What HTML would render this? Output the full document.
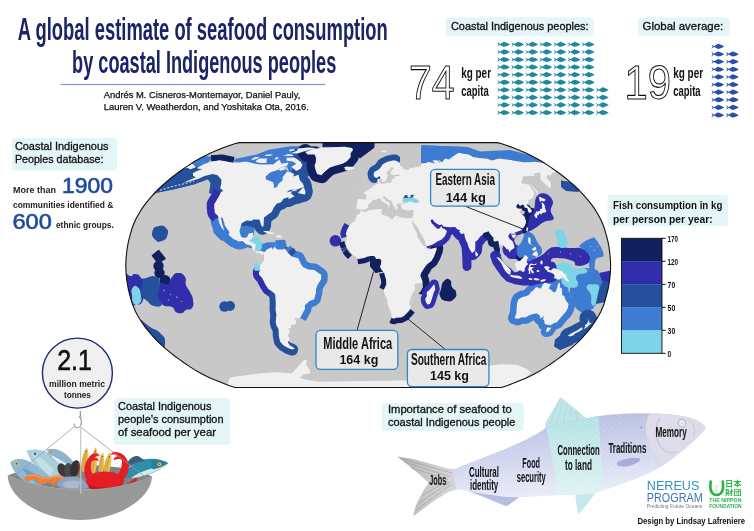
<!DOCTYPE html>
<html lang="en"><head><meta charset="utf-8"><title>A global estimate of seafood consumption by coastal Indigenous peoples</title>
<style>
html,body{margin:0;padding:0;background:#fff;}
body{width:754px;height:531px;overflow:hidden;}
svg{display:block;font-family:"Liberation Sans", sans-serif;}
.cjk{font-family:"Liberation Sans","Noto Sans CJK JP",sans-serif;}
</style></head><body>
<svg width="754" height="531" viewBox="0 0 754 531">
<text x="17.8" y="39.8" font-size="31.6" font-weight="bold" fill="#1a2466" text-anchor="start" textLength="370.0" lengthAdjust="spacingAndGlyphs">A global estimate of seafood consumption</text>
<text x="72.1" y="73.0" font-size="31.6" font-weight="bold" fill="#1a2466" text-anchor="start" textLength="264.2" lengthAdjust="spacingAndGlyphs">by coastal Indigenous peoples</text>
<rect x="60.5" y="83.9" width="264.7" height="1.2" fill="#7f93cc"/>
<text x="103.8" y="98.0" font-size="9" font-weight="normal" fill="#111" text-anchor="start" textLength="196.5" lengthAdjust="spacingAndGlyphs" stroke="#111" stroke-width="0.25">Andrés M. Cisneros-Montemayor, Daniel Pauly,</text>
<text x="103.8" y="109.9" font-size="9" font-weight="normal" fill="#111" text-anchor="start" textLength="205.0" lengthAdjust="spacingAndGlyphs" stroke="#111" stroke-width="0.25">Lauren V. Weatherdon, and Yoshitaka Ota, 2016.</text>
<defs><path id="fi" d="M0 -2.3 C0.9 -1.2 1.3 -0.5 1.5 0 C1.3 0.5 0.9 1.2 0 2.3 C1.2 1.7 2.2 0.8 3 0.35 C3.8 0.9 5 1.6 6 2 L6.6 2.7 L7.6 2.2 C9 2.2 11.2 1.3 13 0.1 C11.4 -1.2 9.4 -2.1 8 -2.2 L7 -2.9 L5.8 -2.0 C4.8 -1.6 3.8 -0.9 3 -0.35 C2.2 -0.8 1.2 -1.7 0 -2.3Z"/></defs>
<rect x="446.0" y="17.6" width="147.5" height="18.6" rx="3" fill="#e3f5f7"/>
<text x="451.0" y="30.4" font-size="11.3" font-weight="normal" fill="#111" text-anchor="start" textLength="137.5" lengthAdjust="spacingAndGlyphs" stroke="#111" stroke-width="0.32">Coastal Indigenous peoples:</text>
<rect x="638.2" y="17.6" width="91.3" height="18.2" rx="3" fill="#e3f5f7"/>
<text x="642.6" y="30.0" font-size="11.3" font-weight="normal" fill="#111" text-anchor="start" textLength="80.6" lengthAdjust="spacingAndGlyphs" stroke="#111" stroke-width="0.32">Global average:</text>
<text x="409.0" y="99.2" font-size="49" font-weight="normal" fill="#fff" text-anchor="start" textLength="45.5" lengthAdjust="spacingAndGlyphs" stroke="#111" stroke-width="1.05">74</text>
<text x="624.5" y="98.9" font-size="49" font-weight="normal" fill="#fff" text-anchor="start" textLength="46.5" lengthAdjust="spacingAndGlyphs" stroke="#111" stroke-width="1.05">19</text>
<text x="461.2" y="77.9" font-size="14" font-weight="bold" fill="#111" text-anchor="start" textLength="29.8" lengthAdjust="spacingAndGlyphs">kg per</text>
<text x="461.2" y="95.5" font-size="14" font-weight="bold" fill="#111" text-anchor="start" textLength="27.5" lengthAdjust="spacingAndGlyphs">capita</text>
<text x="673.2" y="77.9" font-size="14" font-weight="bold" fill="#111" text-anchor="start" textLength="29.9" lengthAdjust="spacingAndGlyphs">kg per</text>
<text x="673.2" y="95.8" font-size="14" font-weight="bold" fill="#111" text-anchor="start" textLength="27.4" lengthAdjust="spacingAndGlyphs">capita</text>
<g fill="#21889e"><use href="#fi" x="497.0" y="44.4"/><use href="#fi" x="497.0" y="52.0"/><use href="#fi" x="497.0" y="59.6"/><use href="#fi" x="497.0" y="67.1"/><use href="#fi" x="497.0" y="74.7"/><use href="#fi" x="497.0" y="82.3"/><use href="#fi" x="497.0" y="89.9"/><use href="#fi" x="497.0" y="97.5"/><use href="#fi" x="497.0" y="105.0"/><use href="#fi" x="497.0" y="112.6"/><use href="#fi" x="511.1" y="44.4"/><use href="#fi" x="511.1" y="52.0"/><use href="#fi" x="511.1" y="59.6"/><use href="#fi" x="511.1" y="67.1"/><use href="#fi" x="511.1" y="74.7"/><use href="#fi" x="511.1" y="82.3"/><use href="#fi" x="511.1" y="89.9"/><use href="#fi" x="511.1" y="97.5"/><use href="#fi" x="511.1" y="105.0"/><use href="#fi" x="511.1" y="112.6"/><use href="#fi" x="525.2" y="44.4"/><use href="#fi" x="525.2" y="52.0"/><use href="#fi" x="525.2" y="59.6"/><use href="#fi" x="525.2" y="67.1"/><use href="#fi" x="525.2" y="74.7"/><use href="#fi" x="525.2" y="82.3"/><use href="#fi" x="525.2" y="89.9"/><use href="#fi" x="525.2" y="97.5"/><use href="#fi" x="525.2" y="105.0"/><use href="#fi" x="525.2" y="112.6"/><use href="#fi" x="539.3" y="44.4"/><use href="#fi" x="539.3" y="52.0"/><use href="#fi" x="539.3" y="59.6"/><use href="#fi" x="539.3" y="67.1"/><use href="#fi" x="539.3" y="74.7"/><use href="#fi" x="539.3" y="82.3"/><use href="#fi" x="539.3" y="89.9"/><use href="#fi" x="539.3" y="97.5"/><use href="#fi" x="539.3" y="105.0"/><use href="#fi" x="539.3" y="112.6"/><use href="#fi" x="553.4" y="44.4"/><use href="#fi" x="553.4" y="52.0"/><use href="#fi" x="553.4" y="59.6"/><use href="#fi" x="553.4" y="67.1"/><use href="#fi" x="553.4" y="74.7"/><use href="#fi" x="553.4" y="82.3"/><use href="#fi" x="553.4" y="89.9"/><use href="#fi" x="553.4" y="97.5"/><use href="#fi" x="553.4" y="105.0"/><use href="#fi" x="553.4" y="112.6"/><use href="#fi" x="567.5" y="44.4"/><use href="#fi" x="567.5" y="52.0"/><use href="#fi" x="567.5" y="59.6"/><use href="#fi" x="567.5" y="67.1"/><use href="#fi" x="567.5" y="74.7"/><use href="#fi" x="567.5" y="82.3"/><use href="#fi" x="567.5" y="89.9"/><use href="#fi" x="567.5" y="97.5"/><use href="#fi" x="567.5" y="105.0"/><use href="#fi" x="567.5" y="112.6"/><use href="#fi" x="581.6" y="44.4"/><use href="#fi" x="581.6" y="52.0"/><use href="#fi" x="581.6" y="59.6"/><use href="#fi" x="581.6" y="67.1"/><use href="#fi" x="581.6" y="74.7"/><use href="#fi" x="581.6" y="82.3"/><use href="#fi" x="581.6" y="89.9"/><use href="#fi" x="581.6" y="97.5"/><use href="#fi" x="581.6" y="105.0"/><use href="#fi" x="581.6" y="112.6"/><use href="#fi" x="595.7" y="89.9"/><use href="#fi" x="595.7" y="97.5"/><use href="#fi" x="595.7" y="105.0"/><use href="#fi" x="595.7" y="112.6"/></g><g fill="#2a4fa6"><use href="#fi" x="711.2" y="46.5"/><use href="#fi" x="711.2" y="54.1"/><use href="#fi" x="711.2" y="61.7"/><use href="#fi" x="711.2" y="69.4"/><use href="#fi" x="711.2" y="77.0"/><use href="#fi" x="711.2" y="84.6"/><use href="#fi" x="711.2" y="92.2"/><use href="#fi" x="711.2" y="99.8"/><use href="#fi" x="711.2" y="107.5"/><use href="#fi" x="711.2" y="115.1"/><use href="#fi" x="725.8" y="54.1"/><use href="#fi" x="725.8" y="61.7"/><use href="#fi" x="725.8" y="69.4"/><use href="#fi" x="725.8" y="77.0"/><use href="#fi" x="725.8" y="84.6"/><use href="#fi" x="725.8" y="92.2"/><use href="#fi" x="725.8" y="99.8"/><use href="#fi" x="725.8" y="107.5"/><use href="#fi" x="725.8" y="115.1"/></g>
<rect x="12.0" y="137.9" width="105.2" height="32.5" rx="3" fill="#e3f5f7"/>
<text x="14.9" y="149.7" font-size="11.2" font-weight="normal" fill="#111" text-anchor="start" textLength="93.6" lengthAdjust="spacingAndGlyphs" stroke="#111" stroke-width="0.31">Coastal Indigenous</text>
<text x="14.9" y="162.5" font-size="11.2" font-weight="normal" fill="#111" text-anchor="start" textLength="88.6" lengthAdjust="spacingAndGlyphs" stroke="#111" stroke-width="0.31">Peoples database:</text>
<text x="13.0" y="193.1" font-size="8.8" font-weight="bold" fill="#222" text-anchor="start" textLength="42.9" lengthAdjust="spacingAndGlyphs">More than</text>
<text x="62.1" y="193.4" font-size="21.4" font-weight="normal" fill="#1e4a9c" text-anchor="start" textLength="50.9" lengthAdjust="spacingAndGlyphs" stroke="#1e4a9c" stroke-width="0.60">1900</text>
<text x="13.0" y="208.3" font-size="8.8" font-weight="bold" fill="#222" text-anchor="start" textLength="100.3" lengthAdjust="spacingAndGlyphs">communities identified &amp;</text>
<text x="12.4" y="229.0" font-size="21.4" font-weight="normal" fill="#1e4a9c" text-anchor="start" textLength="39.4" lengthAdjust="spacingAndGlyphs" stroke="#1e4a9c" stroke-width="0.60">600</text>
<text x="55.9" y="228.3" font-size="8.8" font-weight="bold" fill="#222" text-anchor="start" textLength="58.0" lengthAdjust="spacingAndGlyphs">ethnic groups.</text>
<defs><clipPath id="mc"><path d="M497.2 142.6 L501.7 143.8 L506.9 145.5 L512.6 147.6 L518.8 150.1 L525.2 152.8 L531.4 155.7 L537.1 158.7 L542.4 161.8 L547.5 165.1 L552.4 168.4 L557.1 171.8 L561.8 175.2 L566.3 178.8 L570.6 182.3 L574.7 186.0 L578.6 189.6 L582.1 193.3 L585.4 197.1 L588.6 200.8 L591.6 204.6 L594.3 208.4 L596.7 212.2 L598.9 216.0 L600.9 219.8 L602.6 223.7 L604.1 227.5 L605.2 231.3 L606.3 235.1 L607.3 238.9 L608.2 242.7 L608.9 246.5 L609.5 250.3 L609.9 254.2 L610.3 258.0 L610.5 261.8 L610.6 265.6 L610.5 269.4 L610.3 273.2 L609.9 277.0 L609.5 280.9 L608.9 284.7 L608.2 288.5 L607.3 292.3 L606.3 296.1 L605.2 299.9 L604.1 303.7 L602.6 307.5 L600.9 311.4 L598.9 315.2 L596.7 319.0 L594.3 322.8 L591.6 326.6 L588.6 330.4 L585.4 334.1 L582.1 337.9 L578.6 341.6 L574.7 345.2 L570.6 348.9 L566.3 352.4 L561.8 356.0 L557.1 359.4 L552.4 362.8 L547.5 366.1 L542.4 369.4 L537.1 372.5 L531.4 375.5 L525.2 378.4 L518.8 381.1 L512.6 383.6 L506.9 385.7 L501.3 387.5 L235.1 387.5 L229.5 385.7 L223.8 383.6 L217.6 381.1 L211.2 378.4 L205.0 375.5 L199.3 372.5 L194.0 369.4 L188.9 366.1 L184.0 362.8 L179.3 359.4 L174.6 356.0 L170.1 352.4 L165.8 348.9 L161.7 345.2 L157.8 341.6 L154.3 337.9 L151.0 334.1 L147.8 330.4 L144.8 326.6 L142.1 322.8 L139.7 319.0 L137.5 315.2 L135.5 311.4 L133.8 307.5 L132.3 303.7 L131.2 299.9 L130.1 296.1 L129.1 292.3 L128.2 288.5 L127.5 284.7 L126.9 280.9 L126.5 277.0 L126.1 273.2 L125.9 269.4 L125.8 265.6 L125.9 261.8 L126.1 258.0 L126.5 254.2 L126.9 250.3 L127.5 246.5 L128.2 242.7 L129.1 238.9 L130.1 235.1 L131.2 231.3 L132.3 227.5 L133.8 223.7 L135.5 219.8 L137.5 216.0 L139.7 212.2 L142.1 208.4 L144.8 204.6 L147.8 200.8 L151.0 197.1 L154.3 193.3 L157.8 189.6 L161.7 186.0 L165.8 182.3 L170.1 178.8 L174.6 175.2 L179.3 171.8 L184.0 168.4 L188.9 165.1 L194.0 161.8 L199.3 158.7 L205.0 155.7 L211.2 152.8 L217.6 150.1 L223.8 147.6 L229.5 145.5 L234.7 143.8 L239.2 142.6Z"/></clipPath></defs>
<path d="M497.2 142.6 L501.7 143.8 L506.9 145.5 L512.6 147.6 L518.8 150.1 L525.2 152.8 L531.4 155.7 L537.1 158.7 L542.4 161.8 L547.5 165.1 L552.4 168.4 L557.1 171.8 L561.8 175.2 L566.3 178.8 L570.6 182.3 L574.7 186.0 L578.6 189.6 L582.1 193.3 L585.4 197.1 L588.6 200.8 L591.6 204.6 L594.3 208.4 L596.7 212.2 L598.9 216.0 L600.9 219.8 L602.6 223.7 L604.1 227.5 L605.2 231.3 L606.3 235.1 L607.3 238.9 L608.2 242.7 L608.9 246.5 L609.5 250.3 L609.9 254.2 L610.3 258.0 L610.5 261.8 L610.6 265.6 L610.5 269.4 L610.3 273.2 L609.9 277.0 L609.5 280.9 L608.9 284.7 L608.2 288.5 L607.3 292.3 L606.3 296.1 L605.2 299.9 L604.1 303.7 L602.6 307.5 L600.9 311.4 L598.9 315.2 L596.7 319.0 L594.3 322.8 L591.6 326.6 L588.6 330.4 L585.4 334.1 L582.1 337.9 L578.6 341.6 L574.7 345.2 L570.6 348.9 L566.3 352.4 L561.8 356.0 L557.1 359.4 L552.4 362.8 L547.5 366.1 L542.4 369.4 L537.1 372.5 L531.4 375.5 L525.2 378.4 L518.8 381.1 L512.6 383.6 L506.9 385.7 L501.3 387.5 L235.1 387.5 L229.5 385.7 L223.8 383.6 L217.6 381.1 L211.2 378.4 L205.0 375.5 L199.3 372.5 L194.0 369.4 L188.9 366.1 L184.0 362.8 L179.3 359.4 L174.6 356.0 L170.1 352.4 L165.8 348.9 L161.7 345.2 L157.8 341.6 L154.3 337.9 L151.0 334.1 L147.8 330.4 L144.8 326.6 L142.1 322.8 L139.7 319.0 L137.5 315.2 L135.5 311.4 L133.8 307.5 L132.3 303.7 L131.2 299.9 L130.1 296.1 L129.1 292.3 L128.2 288.5 L127.5 284.7 L126.9 280.9 L126.5 277.0 L126.1 273.2 L125.9 269.4 L125.8 265.6 L125.9 261.8 L126.1 258.0 L126.5 254.2 L126.9 250.3 L127.5 246.5 L128.2 242.7 L129.1 238.9 L130.1 235.1 L131.2 231.3 L132.3 227.5 L133.8 223.7 L135.5 219.8 L137.5 216.0 L139.7 212.2 L142.1 208.4 L144.8 204.6 L147.8 200.8 L151.0 197.1 L154.3 193.3 L157.8 189.6 L161.7 186.0 L165.8 182.3 L170.1 178.8 L174.6 175.2 L179.3 171.8 L184.0 168.4 L188.9 165.1 L194.0 161.8 L199.3 158.7 L205.0 155.7 L211.2 152.8 L217.6 150.1 L223.8 147.6 L229.5 145.5 L234.7 143.8 L239.2 142.6Z" fill="#c8c8c8"/>
<g clip-path="url(#mc)">
<path d="M421.7 145.3 L467.0 147.0 L480.0 151.5 L510.0 150.0 L530.0 155.0 L541.0 160.5 L538.0 166.0 L500.0 164.0 L470.0 166.0 L440.0 168.0 L419.5 162.0Z" fill="#3e7cd2"/>
<path d="M420.3 163.5 L426.9 163.1 L427.2 161.8 L433.3 163.1 L435.2 163.8 L432.3 160.6 L432.5 158.1 L435.5 158.3 L437.5 160.6 L440.6 163.8 L438.1 159.3 L441.6 159.0 L443.1 157.4 L448.2 156.9 L446.7 155.3 L455.4 154.3 L458.6 152.5 L462.7 153.7 L469.1 154.5 L472.9 157.1 L479.1 158.1 L487.4 158.7 L491.5 160.6 L493.6 160.0 L499.2 158.5 L510.7 160.0 L513.9 160.8 L523.6 162.2 L533.1 162.1 L533.7 161.8 L539.1 162.2" fill="none" stroke="#3e7cd2" stroke-width="9" stroke-linejoin="round" stroke-linecap="round"/>
<path d="M190.0 165.0 L204.8 156.0 L211.0 157.5 L209.6 160.7 L202.4 166.3 L196.8 167.5 L191.0 166.0Z" fill="#3e7cd2" stroke="#3e7cd2" stroke-width="1" stroke-linejoin="round"/>
<path d="M211.0 158.3 L222.0 157.5 L234.0 160.0" fill="none" stroke="#12205f" stroke-width="6" stroke-linejoin="round" stroke-linecap="butt"/>
<path d="M150.0 197.0 L156.3 192.5 L175.0 188.7 L194.0 184.0 L208.0 178.8 L211.0 183.0 L209.5 193.0 L218.0 193.5 L222.0 185.0 L224.0 177.0 L215.0 171.0 L205.0 169.0 L197.0 167.0 L192.0 163.9 L170.0 176.0 L148.0 190.0Z" fill="#24509c" stroke="#24509c" stroke-width="1" stroke-linejoin="round"/>
<path d="M561.0 180.5 L572.0 182.0 L580.0 190.0 L578.0 192.0 L566.0 191.0 L561.0 187.0Z" fill="#24509c"/>
<path d="M220.9 192.0 L223.4 191.1 L220.2 188.2 L221.4 183.1" fill="none" stroke="#24509c" stroke-width="15" stroke-linejoin="round" stroke-linecap="round"/>
<path d="M242.4 240.9 L239.0 241.5 L233.4 238.9 L228.7 235.1 L229.4 232.0 L225.1 225.9 L222.7 218.0 L220.8 217.3 L221.9 222.9 L223.8 229.0 L224.1 230.5 L221.4 227.5 L218.9 222.1 L218.1 216.0" fill="none" stroke="#3e7cd2" stroke-width="16" stroke-linejoin="round" stroke-linecap="round"/>
<path d="M217.8 221.4 L219.0 229.8 L224.0 235.1" fill="none" stroke="#3e7cd2" stroke-width="12" stroke-linejoin="round" stroke-linecap="round"/>
<path d="M251.3 245.8 L246.1 244.2" fill="none" stroke="#3e7cd2" stroke-width="5" stroke-linejoin="round" stroke-linecap="round"/>
<path d="M218.4 218.0 L218.1 216.0 L214.9 213.0 L214.3 208.4 L214.2 204.2 L219.4 195.6 L220.9 192.0" fill="none" stroke="#302eaa" stroke-width="15" stroke-linejoin="round" stroke-linecap="butt"/>
<path d="M232.6 161.2 L235.9 158.7 L256.6 154.5 L267.8 150.1 L289.9 146.3 L313.8 145.9 L320.4 147.2 L313.0 150.1 L303.7 152.8 L298.3 156.9 L301.7 160.0 L304.8 164.4 L305.1 167.7 L298.6 172.5 L289.1 172.5 L287.2 167.1 L279.1 164.4 L258.7 165.1 L241.2 162.9Z" fill="#3e7cd2"/>
<path d="M265.1 176.6 L271.1 171.1 L280.2 168.4 L286.7 171.1 L284.9 178.1 L279.1 185.2 L275.9 188.2 L272.5 188.2 L273.7 182.3 L266.5 179.5Z" fill="#3e7cd2" stroke="#3e7cd2" stroke-width="2" stroke-linejoin="round"/>
<path d="M297.3 153.9 L301.5 157.5 L305.5 163.1 L308.5 167.1 L305.2 171.8 L301.8 174.5" fill="none" stroke="#24509c" stroke-width="11" stroke-linejoin="round" stroke-linecap="round"/>
<path d="M298.5 174.8 L299.9 180.2 L303.0 183.8 L304.0 186.7" fill="none" stroke="#24509c" stroke-width="16" stroke-linejoin="round" stroke-linecap="round"/>
<path d="M304.0 186.7 L306.4 191.1 L305.4 194.8 L298.2 197.1 L294.4 197.8 L288.1 200.4" fill="none" stroke="#24509c" stroke-width="13" stroke-linejoin="round" stroke-linecap="round"/>
<path d="M288.4 199.3 L288.5 197.1 L283.1 199.0 L281.5 201.9 L276.6 203.7 L273.6 207.7 L271.8 211.9 L268.7 213.9 L264.0 217.6 L263.6 225.2 L262.8 227.2 L261.3 225.5 L260.5 222.9 L259.6 219.8 L257.1 219.4 L252.6 219.5 L252.2 221.1 L246.5 220.6 L241.7 223.2" fill="none" stroke="#24509c" stroke-width="15" stroke-linejoin="round" stroke-linecap="round"/>
<path d="M239.5 227.5 L246.0 226.5 L253.5 228.5 L253.0 234.0 L249.0 237.0 L243.0 237.0 L239.5 233.0Z" fill="#3e7cd2" stroke="#3e7cd2" stroke-width="2" stroke-linejoin="round"/>
<path d="M305.3 152.0 L307.5 154.5 L314.6 154.5 L316.0 158.1 L315.9 161.8 L314.6 165.7 L315.5 169.7 L317.1 173.9 L321.4 175.2 L323.9 172.5 L329.5 167.7 L335.2 165.7 L342.6 163.8 L347.0 161.2 L350.7 156.9 L350.6 153.3 L353.1 150.1" fill="none" stroke="#12205f" stroke-width="16" stroke-linejoin="round" stroke-linecap="round"/>
<path d="M323.0 142.0 L374.0 142.0 L374.0 147.5 L368.0 152.0 L360.0 158.0 L352.0 152.0 L340.0 147.0 L323.0 146.8Z" fill="#12205f" stroke="#12205f" stroke-width="1" stroke-linejoin="round"/>
<path d="M261.0 245.0 L268.0 243.0 L275.0 243.0 L273.0 249.5 L266.0 251.0 L261.0 251.0Z" fill="#3e7cd2" stroke="#3e7cd2" stroke-width="1.5" stroke-linejoin="round"/>
<path d="M276.0 241.0 L284.5 240.5 L286.0 247.0 L280.0 250.0 L276.0 248.0Z" fill="#3e7cd2" stroke="#3e7cd2" stroke-width="1.5" stroke-linejoin="round"/>
<path d="M286.0 248.0 L294.0 249.5 L296.0 255.0 L290.0 256.0Z" fill="#24509c" stroke="#24509c" stroke-width="2" stroke-linejoin="round"/>
<path d="M285.4 249.3 L287.7 252.6 L291.6 256.4 L298.3 258.3 L300.9 264.1 L302.9 267.1 L308.3 269.4 L314.4 269.9 L318.4 272.9 L321.2 274.8 L321.2 279.3 L318.0 283.9 L316.2 288.5 L315.8 293.1 L314.2 299.2 L309.7 301.0 L304.8 305.3 L305.0 309.1 L301.5 315.2 L300.1 317.9" fill="none" stroke="#3e7cd2" stroke-width="13" stroke-linejoin="round" stroke-linecap="butt"/>
<path d="M287.7 252.6 L291.6 256.4" fill="none" stroke="#24509c" stroke-width="13" stroke-linejoin="round" stroke-linecap="butt"/>
<path d="M275.2 294.6 L273.2 292.3 L268.3 288.9 L265.2 284.2 L262.2 278.1 L259.1 274.8 L258.8 272.2 L260.5 270.2" fill="none" stroke="#302eaa" stroke-width="12" stroke-linejoin="round" stroke-linecap="butt"/>
<path d="M292.1 349.6 L288.0 348.1 L283.3 345.2 L280.0 341.6 L278.8 335.6 L278.6 329.6 L276.3 325.1 L275.7 322.0 L276.4 314.4 L275.5 309.8 L275.8 303.7 L275.2 294.6" fill="none" stroke="#24509c" stroke-width="12" stroke-linejoin="round" stroke-linecap="round"/>
<path d="M374.2 176.9 L373.5 173.9 L374.5 171.8 L377.0 170.4 L379.5 168.8 L381.3 166.4 L382.6 164.4 L384.8 163.1 L387.6 161.8 L392.7 160.5 L395.0 160.6" fill="none" stroke="#24509c" stroke-width="12" stroke-linejoin="round" stroke-linecap="round"/>
<path d="M403.5 194.0 L410.0 193.0 L414.0 195.5 L412.0 198.0 L404.0 198.0Z" fill="#24509c"/>
<path d="M403.0 198.0 L414.0 197.5 L418.7 200.0 L416.0 203.5 L405.0 203.5Z" fill="#7dd3e8"/>
<path d="M346.7 236.6 L345.8 233.6 L347.2 229.5 L349.3 225.6" fill="none" stroke="#302eaa" stroke-width="11" stroke-linejoin="round" stroke-linecap="butt"/>
<circle cx="335.4" cy="240.8" r="5.8" fill="#302eaa"/>
<path d="M380.0 266.7 L381.0 264.1 L381.3 260.3 L379.6 258.7 L376.3 259.0 L374.2 256.0" fill="none" stroke="#12205f" stroke-width="11" stroke-linejoin="round" stroke-linecap="round"/>
<path d="M371.0 258.0 L383.0 258.0 L384.0 270.0 L376.0 272.0 L371.0 266.0Z" fill="#12205f" stroke="#12205f" stroke-width="2" stroke-linejoin="round"/>
<path d="M383.9 289.7 L386.3 284.4 L386.0 279.3 L384.6 274.8 L384.1 272.6" fill="none" stroke="#12205f" stroke-width="10" stroke-linejoin="round" stroke-linecap="butt"/>
<path d="M410.5 309.1 L408.0 312.1 L404.0 315.9 L401.0 317.5 L396.2 317.8 L393.6 318.7 L391.6 317.8" fill="none" stroke="#12205f" stroke-width="11" stroke-linejoin="round" stroke-linecap="butt"/>
<path d="M424.1 268.3 L421.3 272.8 L420.3 275.5 L421.2 277.8 L422.5 281.6 L422.4 287.7" fill="none" stroke="#12205f" stroke-width="14" stroke-linejoin="round" stroke-linecap="round"/>
<path d="M436.7 247.6 L436.5 249.9 L434.1 256.4 L431.5 261.0 L427.4 264.1 L424.1 268.3" fill="none" stroke="#12205f" stroke-width="13" stroke-linejoin="round" stroke-linecap="round"/>
<path d="M434.2 283.9 L435.3 289.2 L433.9 292.3 L430.8 302.2 L429.8 303.9 L427.4 304.5 L425.6 301.4 L425.3 298.7 L426.9 296.1 L426.6 292.3 L429.9 289.5 L432.3 286.6 L434.2 283.9" fill="none" stroke="#302eaa" stroke-width="9" stroke-linejoin="round" stroke-linecap="round"/>
<path d="M444.0 281.0 C446.7 278.3 447.6 278.2 450.0 280.0 C452.4 281.8 450.2 283.4 452.0 287.0 C453.8 290.6 455.4 288.4 456.0 292.0 C456.6 295.6 457.0 296.3 454.0 299.0 C451.0 301.7 450.2 301.9 446.0 301.0 C441.8 300.1 441.5 299.6 440.0 296.0 C438.5 292.4 439.8 293.5 441.0 289.0 C442.2 284.5 441.3 283.7 444.0 281.0Z" fill="#12205f"/>
<path d="M484.9 232.5 L483.1 233.6 L482.6 235.1 L480.7 235.9 L477.7 240.1 L475.2 242.0 L475.4 245.5 L475.1 249.9 L474.2 251.4 L472.9 252.2 L472.2 253.2 L470.5 250.8 L468.5 247.0 L467.6 243.5 L466.0 240.4 L464.6 236.3 L464.2 233.3 L463.3 233.6 L461.3 233.9 L459.1 231.6 L460.3 230.5 L456.8 229.0 L455.3 227.0 L449.4 227.3 L443.4 226.6" fill="none" stroke="#302eaa" stroke-width="14" stroke-linejoin="round" stroke-linecap="butt"/>
<path d="M442.1 227.9 L445.3 229.6 L447.0 231.3 L445.7 234.5 L444.6 236.6 L443.2 238.1 L441.3 239.7 L437.8 241.2" fill="none" stroke="#302eaa" stroke-width="11" stroke-linejoin="round" stroke-linecap="round"/>
<path d="M437.8 241.2 L433.2 244.2 L428.4 246.1" fill="none" stroke="#302eaa" stroke-width="4" stroke-linejoin="round" stroke-linecap="round"/>
<path d="M430.5 219.8 L433.0 219.0 L438.7 226.0 L437.0 228.0 L432.0 224.0Z" fill="#302eaa" stroke="#302eaa" stroke-width="1" stroke-linejoin="round"/>
<path d="M466.7 244.2 L466.3 250.3 L466.9 259.5 L467.0 266.4" fill="none" stroke="#302eaa" stroke-width="9" stroke-linejoin="round" stroke-linecap="round"/>
<path d="M500.3 249.6 L499.2 245.8 L498.2 240.7 L495.2 241.5 L493.7 241.2 L493.2 237.4 L489.7 233.6 L488.7 231.3 L486.8 232.0" fill="none" stroke="#12205f" stroke-width="12" stroke-linejoin="round" stroke-linecap="round"/>
<path d="M495.2 255.7 L497.4 261.8 L501.5 267.9 L505.4 273.2 L509.2 277.0 L515.8 279.3 L523.7 280.5" fill="none" stroke="#302eaa" stroke-width="10" stroke-linejoin="round" stroke-linecap="round"/>
<path d="M524.8 217.1 L525.3 219.8 L526.0 220.1 L526.1 222.4 L524.7 225.9 L523.0 228.2 L520.8 230.5 L517.7 231.6 L514.0 233.1 L513.6 234.6 L511.3 232.5" fill="none" stroke="#302eaa" stroke-width="7" stroke-linejoin="round" stroke-linecap="round"/>
<path d="M503.0 236.0 C505.7 231.5 505.3 233.5 509.0 233.5 C512.7 233.5 512.0 232.8 514.0 236.0 C516.0 239.2 513.0 239.0 515.0 243.0 C517.0 247.0 518.0 243.7 520.0 248.0 C522.0 252.3 523.0 252.3 521.0 256.0 C519.0 259.7 519.0 259.0 514.0 259.0 C509.0 259.0 510.3 260.0 506.0 256.0 C501.7 252.0 502.0 253.7 501.0 247.0 C500.0 240.3 500.3 240.5 503.0 236.0Z" fill="#302eaa"/>
<path d="M511.3 232.8 L513.5 237.8 L515.8 235.9 L514.0 232.8" fill="none" stroke="#c8c8c8" stroke-width="1.5" stroke-linejoin="round" stroke-linecap="round"/>
<path d="M532.0 211.5 L530.3 212.7 L528.7 212.7 L527.2 208.1 L524.8 207.7 L523.9 205.2 L522.5 204.6 L520.0 206.1" fill="none" stroke="#12205f" stroke-width="7" stroke-linejoin="round" stroke-linecap="round"/>
<path d="M527.2 214.5 L527.2 219.8 L527.9 224.4 L526.4 229.0 L525.6 231.3" fill="none" stroke="#12205f" stroke-width="6" stroke-linejoin="round" stroke-linecap="round"/>
<path d="M516.5 255.0 C517.8 253.0 519.7 253.2 522.0 254.5 C524.3 255.8 524.8 257.0 523.5 259.0 C522.2 261.0 520.3 261.8 518.0 260.5 C515.7 259.2 515.2 257.0 516.5 255.0Z" fill="#12205f"/>
<path d="M536.5 196.8 C538.7 193.4 541.7 192.8 545.0 193.6 C548.3 194.4 551.7 197.6 552.8 201.0 C553.9 204.4 550.6 206.9 550.7 210.5 C550.8 214.1 554.8 216.7 553.5 219.0 C552.2 221.3 547.8 220.0 544.0 221.9 C540.2 223.8 537.8 226.7 534.6 228.4 C531.4 230.1 529.0 232.6 528.0 230.3 C527.0 228.0 528.3 221.0 529.5 217.0 C530.7 213.0 532.6 214.5 534.0 210.5 C535.4 206.5 534.3 200.2 536.5 196.8Z" fill="#302eaa"/>
<path d="M579.0 271.0 C583.0 267.9 584.4 267.7 590.0 268.5 C595.6 269.3 596.8 268.3 600.0 274.0 C603.2 279.7 602.8 282.3 602.0 290.0 C601.2 297.7 600.7 297.4 597.0 303.0 C593.3 308.6 593.1 309.1 588.0 311.0 C582.9 312.9 582.3 313.5 578.0 310.0 C573.7 306.5 574.1 303.9 572.0 298.0 C569.9 292.1 569.2 292.8 570.0 288.0 C570.8 283.2 572.6 284.5 575.0 280.0 C577.4 275.5 575.0 274.1 579.0 271.0Z" fill="#3e7cd2"/>
<path d="M518.5 299.2 L517.1 303.0 L516.7 307.5 L516.4 312.9 L514.6 317.9 L518.0 319.0 L521.1 317.5 L525.7 317.3 L529.8 314.9 L534.1 313.8 L537.0 313.6 L539.8 315.6 L540.4 318.7 L544.1 315.9 L542.9 319.3 L543.7 319.7 L544.4 321.3 L544.7 323.9 L547.4 324.8 L550.6 325.2 L553.8 323.2 L556.9 322.3 L559.6 319.0 L562.0 315.9 L565.7 312.1 L567.8 308.3 L568.6 304.0 L566.7 301.4 L565.3 299.2 L564.6 296.4 L562.0 294.6 L562.1 292.3 L561.9 288.5 L560.1 287.4 L559.9 283.9 L559.1 282.1 L557.6 285.4 L556.7 289.2 L555.2 292.3 L553.5 292.3 L551.3 290.0 L548.8 288.5 L549.9 285.9 L551.2 284.2 L549.5 283.9 L546.2 283.1 L544.3 282.8 L542.7 284.7 L540.9 288.2 L538.8 288.5 L537.7 287.0 L535.4 287.7 L533.2 290.5 L530.6 292.3 L530.3 293.5 L528.4 295.3 L524.9 296.6 L522.1 297.2 L518.5 299.2" fill="none" stroke="#3e7cd2" stroke-width="13" stroke-linejoin="round" stroke-linecap="round"/>
<path d="M547.1 327.6 L551.4 327.8 L548.7 331.4 L545.9 332.0 L546.4 329.9 L547.1 327.6" fill="none" stroke="#3e7cd2" stroke-width="10" stroke-linejoin="round" stroke-linecap="round"/>
<path d="M557.8 264.0 C561.5 262.2 564.5 262.1 568.8 263.2 C573.1 264.3 569.8 266.9 573.9 268.3 C578.0 269.7 580.6 267.2 584.0 268.3 C587.4 269.4 588.6 270.4 586.6 272.5 C584.6 274.6 578.7 272.8 576.4 276.0 C574.1 279.2 579.1 281.3 578.0 284.4 C576.9 287.5 576.0 287.6 572.2 287.8 C568.4 288.0 566.9 288.0 563.7 285.3 C560.5 282.6 562.6 281.7 560.3 277.6 C558.0 273.5 555.7 273.6 555.0 270.0 C554.3 266.4 554.1 265.8 557.8 264.0Z" fill="#7dd3e8"/>
<path d="M586.6 287.0 C587.1 284.3 589.1 284.2 592.5 284.4 C595.9 284.6 598.4 282.8 599.3 287.8 C600.2 292.8 598.0 298.7 596.0 303.0 C594.0 307.3 593.1 306.1 591.7 303.9 C590.3 301.7 592.2 299.1 590.8 294.6 C589.4 290.1 586.1 289.7 586.6 287.0Z" fill="#7dd3e8"/>
<path d="M492.0 259.0 C492.3 256.3 494.1 256.2 497.0 257.0 C499.9 257.8 499.5 259.1 503.0 262.0 C506.5 264.9 506.3 265.3 510.0 268.0 C513.7 270.7 513.5 273.1 517.0 272.0 C520.5 270.9 520.0 267.0 523.0 264.0 C526.0 261.0 524.7 262.2 528.2 260.6 C531.7 259.0 532.1 259.6 536.0 258.0 C539.9 256.4 539.2 257.0 542.7 254.6 C546.2 252.2 545.5 251.0 549.0 249.0 C552.5 247.0 550.3 247.3 556.0 247.0 C561.7 246.7 563.5 247.5 570.5 248.0 C577.5 248.5 577.2 246.6 582.4 248.8 C587.6 251.0 588.2 252.8 590.0 256.4 C591.8 260.0 592.4 259.9 589.0 262.4 C585.6 264.9 581.8 266.3 577.3 265.8 C572.8 265.3 577.6 262.8 572.2 260.7 C566.8 258.6 562.7 258.0 557.0 258.0 C551.3 258.0 551.3 258.8 551.0 260.7 C550.7 262.6 554.7 260.5 556.0 265.0 C557.3 269.5 556.7 273.2 556.0 277.7 C555.3 282.2 557.5 280.2 553.2 281.7 C548.9 283.2 546.7 282.5 540.0 283.5 C533.3 284.5 535.2 286.1 528.2 285.6 C521.2 285.1 520.4 284.3 513.7 281.7 C507.0 279.1 507.9 279.6 503.2 275.7 C498.5 271.8 499.0 271.5 496.0 267.0 C493.0 262.5 491.7 261.7 492.0 259.0Z" fill="#302eaa"/>
<path d="M525.0 233.0 C527.2 232.1 528.7 231.1 532.0 233.5 C535.3 235.9 534.7 237.2 537.4 242.0 C540.1 246.8 542.4 247.3 542.0 251.4 C541.6 255.5 539.7 254.7 536.0 257.3 C532.3 259.9 530.8 261.5 528.2 261.2 C525.6 260.9 528.7 257.0 526.2 256.0 C523.7 255.0 521.5 259.2 519.0 257.3 C516.5 255.4 516.5 252.6 517.0 248.7 C517.5 244.8 519.2 245.9 521.0 242.8 C522.8 239.7 522.5 239.5 523.6 236.9 C524.7 234.3 522.8 233.9 525.0 233.0Z" fill="#3e7cd2"/>
<path d="M555.3 232.7 C556.0 229.8 557.6 228.6 560.3 229.3 C563.0 230.0 563.6 231.0 565.4 235.3 C567.2 239.6 568.8 242.3 567.0 245.4 C565.2 248.5 561.1 248.4 558.6 247.0 C556.1 245.6 558.7 244.1 557.8 240.3 C556.9 236.5 554.6 235.6 555.3 232.7Z" fill="#7dd3e8"/>
<path d="M579.8 245.4 C581.4 243.3 587.6 239.8 590.8 238.6 C594.0 237.4 593.4 236.3 596.0 239.5 C598.6 242.7 603.6 250.8 603.6 254.7 C603.6 258.6 597.9 256.1 596.0 259.0 C594.1 261.9 595.4 267.0 594.2 269.2 C593.0 271.4 591.0 271.4 590.0 270.0 C589.0 268.6 589.2 265.2 589.2 262.4 C589.2 259.6 591.2 258.7 590.0 256.0 C588.8 253.3 585.0 251.1 583.0 249.0 C581.0 246.9 578.2 247.5 579.8 245.4Z" fill="#3e7cd2"/>
<path d="M600.2 273.4 L612.0 271.0 L612.0 282.0 L602.7 281.0Z" fill="#302eaa" stroke="#302eaa" stroke-width="1.5" stroke-linejoin="round"/>
<path d="M602.7 282.5 L612.0 283.0 L612.0 300.0 L596.8 303.0 L599.3 291.2Z" fill="#24509c" stroke="#24509c" stroke-width="1.5" stroke-linejoin="round"/>
<path d="M587.9 318.2 L590.6 323.5 L583.7 328.9 L575.2 333.4 L568.5 336.4" fill="none" stroke="#24509c" stroke-width="17" stroke-linejoin="round" stroke-linecap="round"/>
<path d="M556.0 340.0 L566.0 332.0 L576.0 330.0 L572.0 344.0 L560.0 349.0 L555.0 346.0Z" fill="#24509c" stroke="#24509c" stroke-width="2" stroke-linejoin="round"/>
<path d="M152.5 255.5 L158.5 250.5 L165.0 258.5 L158.0 263.0Z" fill="#12205f" stroke="#12205f" stroke-width="1.5" stroke-linejoin="round"/>
<circle cx="158.5" cy="266.0" r="5.2" fill="#12205f"/>
<circle cx="159.5" cy="273.0" r="5.2" fill="#12205f"/>
<circle cx="165.0" cy="280.5" r="5.5" fill="#12205f"/>
<path d="M160.0 283.0 C163.3 281.5 164.4 285.8 168.0 284.0 C171.6 282.2 169.0 280.3 172.0 277.0 C175.0 273.7 174.1 273.0 178.0 273.0 C181.9 273.0 182.6 273.4 185.0 277.0 C187.4 280.6 184.5 280.5 186.0 285.0 C187.5 289.5 187.9 287.5 190.0 292.0 C192.1 296.5 192.4 295.2 193.0 300.0 C193.6 304.8 194.1 305.0 192.0 308.0 C189.9 311.0 189.0 308.5 186.0 310.0 C183.0 311.5 185.0 312.4 182.0 313.0 C179.0 313.6 179.0 313.8 176.0 312.0 C173.0 310.2 175.9 309.1 172.0 307.0 C168.1 304.9 167.2 308.0 163.0 305.0 C158.8 302.0 159.8 301.8 158.0 297.0 C156.2 292.2 156.4 293.2 157.0 289.0 C157.6 284.8 156.7 284.5 160.0 283.0Z" fill="#302eaa"/>
<path d="M136.0 282.0 C138.4 277.2 140.0 279.5 146.0 278.0 C152.0 276.5 151.8 275.2 156.0 277.0 C160.2 278.8 159.4 278.3 160.0 284.0 C160.6 289.7 157.4 290.0 158.0 296.0 C158.6 302.0 163.2 301.0 162.0 304.0 C160.8 307.0 158.8 307.2 154.0 306.0 C149.2 304.8 150.8 303.6 146.0 300.0 C141.2 296.4 141.0 299.4 138.0 294.0 C135.0 288.6 133.6 286.8 136.0 282.0Z" fill="#24509c"/>
<path d="M122.0 272.0 C124.4 266.6 126.1 275.4 130.0 276.0 C133.9 276.6 131.7 273.4 135.0 274.0 C138.3 274.6 138.9 274.4 141.0 278.0 C143.1 281.6 142.0 281.2 142.0 286.0 C142.0 290.8 140.7 289.8 141.0 294.0 C141.3 298.2 144.2 296.7 143.0 300.0 C141.8 303.3 141.5 304.4 137.0 305.0 C132.5 305.6 132.5 305.3 128.0 302.0 C123.5 298.7 123.8 303.0 122.0 294.0 C120.2 285.0 119.6 277.4 122.0 272.0Z" fill="#302eaa"/>
<path d="M132.5 288.0 C134.3 285.4 135.4 285.1 138.0 287.5 C140.6 289.9 140.4 291.4 141.0 296.0 C141.6 300.6 142.1 300.6 140.0 303.0 C137.9 305.4 136.4 306.1 134.0 304.0 C131.6 301.9 132.4 300.8 132.0 296.0 C131.6 291.2 130.7 290.6 132.5 288.0Z" fill="#7dd3e8"/>
<circle cx="224.5" cy="306.5" r="5.2" fill="#24509c"/>
<circle cx="230.0" cy="306.0" r="5.0" fill="#24509c"/>
<path d="M152.5 231.0 C153.7 226.9 154.9 226.9 159.0 226.0 C163.1 225.1 163.4 225.3 166.0 228.0 C168.6 230.7 168.7 231.1 167.5 235.0 C166.3 238.9 165.8 239.7 162.0 241.0 C158.2 242.3 157.8 242.5 155.0 239.5 C152.2 236.5 151.3 235.1 152.5 231.0Z" fill="#24509c"/>
<path d="M138.0 320.0 C142.2 318.2 143.4 323.1 150.0 327.0 C156.6 330.9 155.5 328.5 160.0 333.0 C164.5 337.5 165.0 336.9 165.0 342.0 C165.0 347.1 165.1 349.1 160.0 350.0 C154.9 350.9 155.2 350.1 148.0 345.0 C140.8 339.9 139.0 340.5 136.0 333.0 C133.0 325.5 133.8 321.8 138.0 320.0Z" fill="#24509c"/>
<path d="M197.2 167.7 L204.7 163.8 L219.1 160.2 L231.1 162.4 L236.0 163.1 L244.3 161.8 L247.2 161.8 L255.0 163.8 L261.2 164.4 L273.1 164.4 L279.3 159.5 L281.5 163.8 L288.4 162.5 L287.1 165.7 L281.1 167.1 L278.3 169.7 L270.1 172.5 L265.6 176.6 L266.0 179.5 L272.9 181.9 L274.1 185.2 L273.4 187.4 L276.2 187.7 L279.2 183.1 L282.7 180.2 L282.7 177.1 L286.9 171.8 L291.2 172.5 L294.2 173.9 L293.3 176.6 L298.5 174.8 L299.9 180.2 L303.0 183.8 L304.0 186.7 L298.2 189.3 L290.6 189.3 L286.5 192.6 L291.7 191.1 L291.3 194.1 L294.8 196.3 L288.4 199.3 L288.5 197.1 L283.1 199.0 L281.5 201.9 L276.6 203.7 L273.6 207.7 L271.8 211.9 L268.7 213.9 L264.0 217.6 L263.6 225.2 L262.8 227.2 L261.3 225.5 L260.5 222.9 L259.6 219.8 L257.1 219.4 L252.6 219.5 L252.2 221.1 L246.5 220.6 L241.7 223.2 L239.5 231.3 L241.0 236.6 L242.8 237.8 L246.9 237.4 L248.7 233.6 L253.4 232.8 L252.2 237.4 L250.4 241.2 L256.3 241.5 L257.3 242.9 L256.1 248.8 L257.5 251.4 L261.6 251.1 L264.5 252.5 L264.1 254.2 L260.8 254.5 L260.2 252.9 L256.8 252.9 L253.3 250.3 L251.3 245.8 L246.1 244.2 L242.4 240.9 L239.0 241.5 L233.4 238.9 L228.7 235.1 L229.4 232.0 L225.1 225.9 L222.7 218.0 L220.8 217.3 L221.9 222.9 L223.8 229.0 L224.1 230.5 L221.4 227.5 L218.9 222.1 L218.1 216.0 L214.9 213.0 L214.3 208.4 L214.2 204.2 L219.4 195.6 L220.9 192.0 L223.4 191.1 L220.2 188.2 L221.4 183.1 L221.2 179.5 L219.1 177.1 L217.6 175.2 L212.7 173.9 L204.5 175.9 L198.7 178.8 L189.0 181.6 L183.3 182.8 L195.9 177.3 L193.2 175.9 L192.8 173.2 L196.9 171.1 L202.6 169.1 L197.8 168.8ZM305.3 152.0 L312.1 149.2 L319.6 148.1 L332.4 147.2 L344.6 146.7 L352.0 148.1 L353.1 150.1 L350.6 153.3 L350.7 156.9 L347.0 161.2 L342.6 163.8 L335.2 165.7 L329.5 167.7 L323.9 172.5 L321.4 175.2 L317.1 173.9 L315.5 169.7 L314.6 165.7 L315.9 161.8 L316.0 158.1 L314.6 154.5 L307.5 154.5ZM286.5 157.7 L294.2 157.4 L296.7 159.0 L300.5 161.8 L302.5 165.1 L300.3 169.1 L296.1 171.1 L293.5 168.4 L291.3 167.1 L296.3 163.8 L293.0 161.5 L286.7 160.8ZM256.6 160.3 L259.5 158.6 L267.0 158.6 L266.6 160.8 L266.7 162.7 L260.5 163.1 L255.7 162.1ZM251.4 159.1 L255.7 157.1 L259.5 157.0 L257.3 158.8 L252.3 160.0ZM283.0 155.7 L288.3 154.0 L294.6 154.9 L291.8 155.9ZM264.9 155.0 L270.3 154.3 L273.2 154.7 L270.3 155.7 L265.5 155.9ZM275.6 157.5 L278.8 157.1 L277.5 159.3 L274.5 159.6ZM289.0 149.8 L294.1 149.0 L294.8 150.6 L289.7 151.3ZM280.7 167.7 L284.0 167.3 L284.5 169.7 L280.7 170.8 L278.8 169.7ZM290.8 153.3 L297.1 150.8 L298.0 148.6 L308.1 147.5 L316.4 148.1 L309.9 149.7 L303.0 151.7 L297.6 153.6ZM264.5 252.5 L267.1 249.3 L271.9 247.3 L272.4 249.6 L274.6 247.0 L277.1 249.4 L282.4 249.6 L285.4 249.3 L287.7 252.6 L291.6 256.4 L298.3 258.3 L300.9 264.1 L302.9 267.1 L308.3 269.4 L314.4 269.9 L318.4 272.9 L321.2 274.8 L321.2 279.3 L318.0 283.9 L316.2 288.5 L315.8 293.1 L314.2 299.2 L309.7 301.0 L304.8 305.3 L305.0 309.1 L301.5 315.2 L300.1 317.9 L295.7 318.2 L293.9 317.5 L296.3 321.3 L295.7 324.3 L290.9 325.1 L291.0 328.1 L287.9 328.1 L289.8 330.4 L289.1 334.1 L287.2 335.6 L290.0 338.6 L287.8 342.3 L289.8 345.2 L295.0 348.6 L292.1 349.6 L288.0 348.1 L283.3 345.2 L280.0 341.6 L278.8 335.6 L278.6 329.6 L276.3 325.1 L275.7 322.0 L276.4 314.4 L275.5 309.8 L275.8 303.7 L275.2 294.6 L273.2 292.3 L268.3 288.9 L265.2 284.2 L262.2 278.1 L259.1 274.8 L258.8 272.2 L260.5 270.2 L259.4 269.0 L259.4 267.1 L260.5 264.4 L262.1 263.3 L264.2 259.5 L264.1 254.6ZM360.7 211.0 L365.7 211.9 L369.5 209.9 L374.5 209.5 L380.8 208.9 L382.0 209.2 L381.2 213.3 L382.3 214.8 L387.4 216.3 L392.7 219.4 L393.9 217.1 L396.4 215.4 L400.3 217.3 L405.6 218.3 L409.8 218.0 L412.2 217.9 L413.4 220.6 L412.4 223.2 L410.4 220.0 L412.5 224.4 L414.8 229.0 L417.1 233.6 L417.6 236.9 L420.6 242.0 L423.7 245.8 L426.1 246.5 L425.8 248.1 L428.5 249.6 L432.5 248.5 L436.7 247.6 L436.5 249.9 L434.1 256.4 L431.5 261.0 L427.4 264.1 L424.1 268.3 L421.3 272.8 L420.3 275.5 L421.2 277.8 L422.5 281.6 L422.4 287.7 L420.0 291.5 L416.6 294.3 L414.2 296.1 L414.9 301.4 L411.1 305.1 L410.5 309.1 L408.0 312.1 L404.0 315.9 L401.0 317.5 L396.2 317.8 L393.6 318.7 L391.6 317.8 L391.6 314.4 L389.6 309.2 L387.8 305.3 L387.3 299.9 L384.1 293.1 L383.9 289.7 L386.3 284.4 L386.0 279.3 L384.6 274.8 L384.1 272.6 L381.3 269.4 L380.0 266.7 L381.0 264.1 L381.3 260.3 L379.6 258.7 L376.3 259.0 L374.2 256.0 L370.2 256.1 L365.5 258.3 L362.1 257.7 L358.1 258.9 L355.8 256.8 L352.8 255.1 L350.5 252.5 L348.5 249.3 L345.9 246.7 L345.0 243.2 L346.2 241.2 L346.7 236.6 L345.8 233.6 L347.2 229.5 L349.3 225.6 L351.3 223.4 L355.3 220.6 L355.7 218.3 L357.3 214.8 L359.5 213.7ZM434.2 283.9 L435.3 289.2 L433.9 292.3 L430.8 302.2 L429.8 303.9 L427.4 304.5 L425.6 301.4 L425.3 298.7 L426.9 296.1 L426.6 292.3 L429.9 289.5 L432.3 286.6ZM356.9 209.2 L356.5 206.6 L357.4 202.3 L357.0 199.9 L358.5 199.0 L366.0 199.5 L366.8 195.6 L364.8 193.5 L362.6 192.0 L366.3 191.6 L366.6 190.1 L368.4 190.4 L370.1 188.3 L372.2 187.6 L373.7 185.2 L376.2 184.5 L378.2 183.8 L377.5 181.6 L377.3 179.5 L379.7 178.5 L379.6 180.9 L379.5 183.1 L380.7 183.8 L384.1 183.8 L389.0 182.6 L390.8 183.1 L391.7 181.6 L391.4 179.5 L392.9 178.5 L395.0 179.0 L393.7 176.4 L398.5 175.9 L400.5 175.2 L398.2 174.5 L395.0 175.0 L392.4 175.2 L390.9 173.9 L390.5 171.4 L393.8 168.4 L392.5 167.3 L390.5 167.5 L390.2 169.3 L386.7 172.5 L386.6 174.3 L388.5 175.2 L386.4 178.8 L386.5 180.5 L384.2 181.6 L382.5 181.8 L382.1 180.2 L380.4 176.9 L379.5 175.9 L377.0 177.9 L374.2 176.9 L373.5 173.9 L374.5 171.8 L377.0 170.4 L379.5 168.8 L381.3 166.4 L382.6 164.4 L384.8 163.1 L387.6 161.8 L392.7 160.5 L395.0 160.6 L398.1 161.5 L397.3 162.2 L400.4 162.6 L405.7 164.0 L409.0 165.1 L409.1 166.7 L403.4 166.1 L401.4 166.4 L403.9 169.1 L407.0 170.0 L409.8 168.9 L408.7 167.1 L412.6 166.8 L411.5 163.8 L414.2 164.4 L414.4 166.0 L420.3 163.5 L426.9 163.1 L427.2 161.8 L433.3 163.1 L435.2 163.8 L432.3 160.6 L432.5 158.1 L435.5 158.3 L437.5 160.6 L440.6 163.8 L438.1 159.3 L441.6 159.0 L443.1 157.4 L448.2 156.9 L446.7 155.3 L455.4 154.3 L458.6 152.5 L462.7 153.7 L469.1 154.5 L472.9 157.1 L479.1 158.1 L487.4 158.7 L491.5 160.6 L493.6 160.0 L499.2 158.5 L510.7 160.0 L513.9 160.8 L523.6 162.2 L533.1 162.1 L533.7 161.8 L539.1 162.2 L544.6 163.3 L552.4 168.4 L550.6 168.9 L556.6 171.8 L552.1 172.7 L551.0 175.2 L546.7 175.2 L546.8 178.1 L550.4 182.3 L551.1 185.2 L550.0 188.2 L540.6 179.8 L540.5 178.3 L540.5 174.5 L539.8 171.8 L537.5 172.9 L533.9 173.0 L534.8 175.7 L530.3 175.9 L523.0 176.2 L522.1 180.9 L520.9 182.8 L524.1 183.8 L529.0 184.8 L531.2 188.2 L533.9 191.9 L533.7 195.6 L532.7 198.6 L529.2 199.8 L528.4 201.1 L528.3 203.1 L526.7 204.9 L531.1 209.2 L532.0 211.5 L530.3 212.7 L528.7 212.7 L527.2 208.1 L524.8 207.7 L523.9 205.2 L522.5 204.6 L520.0 206.1 L518.0 203.4 L516.5 205.8 L515.3 206.7 L517.7 208.4 L522.2 208.7 L520.4 210.4 L519.5 212.2 L521.6 214.0 L524.8 217.1 L525.3 219.8 L526.0 220.1 L526.1 222.4 L524.7 225.9 L523.0 228.2 L520.8 230.5 L517.7 231.6 L514.0 233.1 L513.6 234.6 L511.3 232.5 L509.2 234.3 L508.2 236.6 L509.7 238.9 L512.6 241.2 L514.3 245.8 L514.4 248.1 L511.6 249.7 L509.1 252.3 L508.9 249.9 L506.1 248.8 L505.0 247.0 L502.9 245.2 L501.8 245.2 L501.2 248.8 L502.8 252.6 L503.9 255.2 L506.0 256.8 L507.3 259.2 L507.5 261.8 L508.5 263.5 L507.6 263.6 L504.5 261.2 L503.0 257.2 L500.2 253.1 L500.3 249.6 L499.2 245.8 L498.2 240.7 L495.2 241.5 L493.7 241.2 L493.2 237.4 L489.7 233.6 L488.7 231.3 L486.8 232.0 L484.9 232.5 L483.1 233.6 L482.6 235.1 L480.7 235.9 L477.7 240.1 L475.2 242.0 L475.4 245.5 L475.1 249.9 L474.2 251.4 L472.9 252.2 L472.2 253.2 L470.5 250.8 L468.5 247.0 L467.6 243.5 L466.0 240.4 L464.6 236.3 L464.2 233.3 L463.3 233.6 L461.3 233.9 L459.1 231.6 L460.3 230.5 L456.8 229.0 L455.3 227.0 L449.4 227.3 L443.4 226.6 L441.9 224.4 L439.3 225.0 L436.6 223.5 L434.1 221.4 L432.8 219.5 L431.0 219.8 L430.4 220.6 L431.7 223.4 L433.7 225.0 L434.6 227.2 L435.2 225.8 L435.9 228.5 L439.1 228.8 L441.5 225.9 L442.1 227.9 L445.3 229.6 L447.0 231.3 L445.7 234.5 L444.6 236.6 L443.2 238.1 L441.3 239.7 L437.8 241.2 L433.2 244.2 L428.4 246.1 L426.4 246.2 L425.1 242.7 L424.7 240.4 L422.2 235.9 L419.9 232.8 L418.8 229.3 L416.9 226.7 L413.7 222.9 L413.4 220.6 L412.2 217.9 L412.8 216.8 L413.4 213.7 L413.7 210.7 L411.7 209.6 L409.3 210.7 L406.7 210.2 L404.8 209.6 L402.6 209.2 L401.3 206.9 L400.8 205.4 L400.7 204.6 L404.1 203.9 L404.0 202.8 L407.1 202.8 L409.3 201.6 L411.2 201.6 L413.4 202.6 L417.0 203.1 L419.3 202.3 L419.0 200.5 L416.3 199.2 L413.5 197.5 L413.8 195.6 L414.6 193.8 L413.0 194.4 L410.1 195.3 L411.0 196.6 L408.8 197.8 L407.3 196.3 L407.8 195.6 L405.9 194.8 L404.5 195.9 L402.9 197.5 L402.3 199.5 L402.3 201.6 L402.9 202.3 L404.0 203.1 L401.9 203.4 L400.4 203.6 L397.9 203.4 L397.4 204.6 L396.3 204.0 L396.7 205.7 L398.3 207.7 L397.1 208.1 L397.5 209.9 L396.2 209.8 L394.8 208.0 L394.7 207.2 L392.4 204.2 L392.2 202.0 L390.9 200.8 L387.7 199.3 L386.4 197.8 L385.4 196.8 L384.7 196.2 L383.0 196.6 L383.2 198.3 L384.8 199.3 L385.6 201.0 L387.9 201.7 L391.1 204.3 L390.6 204.8 L389.2 203.9 L388.8 205.1 L389.5 206.1 L388.4 207.7 L387.9 207.7 L388.2 206.1 L387.6 204.6 L385.9 203.4 L383.6 202.2 L381.0 200.2 L380.6 198.7 L378.9 198.0 L377.3 198.9 L375.8 199.9 L373.7 199.5 L372.1 199.9 L372.1 201.7 L369.2 203.4 L367.8 205.4 L368.4 206.4 L367.3 208.1 L365.7 209.5 L362.7 209.6 L361.2 210.7 L360.3 209.8 L359.1 208.9ZM191.8 163.3 L193.9 165.1 L196.1 167.1 L190.6 169.2 L187.1 167.7 L184.0 168.4ZM343.8 167.7 L346.0 166.5 L350.0 166.8 L353.1 166.7 L354.4 168.4 L352.7 169.3 L348.4 170.6 L344.7 170.0 L345.6 169.1ZM380.3 151.9 L382.5 150.6 L386.8 150.6 L385.5 152.2ZM534.3 214.8 L535.2 213.7 L536.1 211.5 L539.7 211.2 L540.3 208.9 L542.2 208.4 L542.0 204.6 L541.2 202.8 L542.5 202.5 L544.9 205.4 L544.9 207.7 L546.4 211.2 L545.5 212.2 L544.2 212.7 L542.4 212.8 L541.5 214.5 L539.5 213.4 L538.4 215.3 L537.2 215.6 L537.2 217.9 L535.9 217.9 L534.1 215.3ZM539.6 200.8 L538.8 196.5 L544.8 198.9 L545.7 199.8 L544.2 201.6 L540.9 200.8 L540.6 202.3ZM538.5 195.6 L537.1 191.1 L532.9 186.7 L529.4 183.4 L529.8 184.5 L534.2 189.6ZM526.7 227.2 L528.1 227.5 L527.6 232.0 L526.2 230.5ZM512.4 235.1 L515.0 235.1 L514.7 237.4 L512.3 237.1ZM475.5 250.7 L478.1 254.2 L477.5 256.0 L475.9 256.4 L475.2 253.4ZM496.3 257.1 L499.3 257.7 L503.5 262.2 L507.8 267.1 L510.9 270.2 L510.4 274.4 L508.7 274.4 L505.8 271.7 L503.5 267.9 L501.1 263.0ZM509.5 276.0 L511.6 274.8 L514.0 275.5 L517.0 275.4 L519.6 276.1 L521.9 277.5 L521.8 278.9 L517.2 278.3 L513.2 277.5ZM515.0 263.3 L515.7 262.5 L518.0 261.8 L520.3 260.7 L522.8 258.0 L525.0 254.9 L526.4 256.0 L528.5 257.7 L526.9 259.2 L526.8 262.5 L528.4 264.1 L526.4 265.6 L525.0 267.9 L524.5 271.4 L522.4 271.7 L520.3 270.5 L518.2 270.5 L516.5 269.9 L516.3 267.6 L515.0 265.6ZM529.5 264.4 L530.8 263.6 L534.5 264.2 L536.8 263.2 L535.9 265.0 L531.1 265.0 L530.0 267.0 L531.9 267.0 L534.2 267.0 L532.4 268.3 L531.7 269.4 L532.9 270.8 L533.9 272.2 L533.0 273.8 L531.6 272.8 L530.9 270.9 L530.2 270.0 L530.1 274.1 L528.7 274.0 L529.0 270.9 L528.1 269.9ZM544.6 266.8 L546.6 266.2 L548.6 266.8 L548.8 269.4 L550.5 270.6 L553.7 267.9 L558.0 269.6 L562.6 271.4 L564.2 273.7 L566.7 274.8 L565.9 276.3 L569.2 281.3 L570.2 281.8 L566.3 280.9 L564.1 278.6 L561.6 277.3 L560.0 279.6 L557.3 279.5 L554.8 278.0 L553.4 278.4 L554.7 276.3 L553.7 274.0 L550.5 272.5 L547.5 271.7 L546.9 269.9 L545.6 269.9ZM528.1 237.4 L530.3 237.5 L530.8 240.4 L530.4 243.5 L534.0 246.1 L533.2 245.0 L531.1 244.6 L529.2 243.9 L528.0 241.2ZM532.1 254.9 L533.9 252.6 L536.5 250.7 L538.1 254.2 L536.9 256.9 L534.8 255.7ZM532.9 248.1 L535.6 246.7 L536.4 249.6 L533.8 251.1 L531.9 249.6ZM518.5 299.2 L517.1 303.0 L516.7 307.5 L516.4 312.9 L514.6 317.9 L518.0 319.0 L521.1 317.5 L525.7 317.3 L529.8 314.9 L534.1 313.8 L537.0 313.6 L539.8 315.6 L540.4 318.7 L544.1 315.9 L542.9 319.3 L543.7 319.7 L544.4 321.3 L544.7 323.9 L547.4 324.8 L550.6 325.2 L553.8 323.2 L556.9 322.3 L559.6 319.0 L562.0 315.9 L565.7 312.1 L567.8 308.3 L568.6 304.0 L566.7 301.4 L565.3 299.2 L564.6 296.4 L562.0 294.6 L562.1 292.3 L561.9 288.5 L560.1 287.4 L559.9 283.9 L559.1 282.1 L557.6 285.4 L556.7 289.2 L555.2 292.3 L553.5 292.3 L551.3 290.0 L548.8 288.5 L549.9 285.9 L551.2 284.2 L549.5 283.9 L546.2 283.1 L544.3 282.8 L542.7 284.7 L540.9 288.2 L538.8 288.5 L537.7 287.0 L535.4 287.7 L533.2 290.5 L530.6 292.3 L530.3 293.5 L528.4 295.3 L524.9 296.6 L522.1 297.2ZM547.1 327.6 L551.4 327.8 L548.7 331.4 L545.9 332.0 L546.4 329.9ZM587.9 318.2 L588.5 321.0 L589.7 321.7 L589.2 322.9 L591.9 323.1 L588.6 325.5 L587.3 327.0 L583.9 329.0 L583.7 328.6 L585.5 326.6 L584.7 325.5 L587.1 323.5 L587.9 322.0ZM582.0 327.3 L582.6 329.2 L578.5 332.0 L575.8 333.1 L573.1 335.5 L569.6 336.5 L567.9 335.6 L571.9 332.9 L576.6 330.8 L580.8 328.1ZM297.8 193.0 L302.9 187.4 L304.0 187.4 L305.6 191.9 L304.9 194.5 L302.0 194.1ZM539.5 279.7 L538.8 280.3 L537.3 280.5 L535.4 280.2 L534.0 279.6 L533.5 278.9 L534.2 278.3 L535.7 278.1 L537.6 278.4 L539.0 279.0ZM545.9 279.7 L545.5 280.5 L544.2 281.3 L542.4 281.8 L540.8 281.8 L540.1 281.3 L540.5 280.5 L541.8 279.7 L543.6 279.2 L545.2 279.2ZM532.5 279.2 L532.1 279.7 L531.0 279.9 L529.8 279.8 L528.8 279.4 L528.5 278.8 L528.9 278.3 L530.0 278.1 L531.2 278.2 L532.2 278.6ZM550.2 267.6 L549.5 268.1 L547.9 268.3 L545.9 268.2 L544.4 267.7 L543.8 267.0 L544.5 266.5 L546.1 266.3 L548.1 266.4 L549.6 266.9ZM542.7 262.5 L542.5 263.8 L541.9 264.6 L541.1 264.6 L540.5 263.8 L540.3 262.5 L540.5 261.2 L541.1 260.4 L541.9 260.4 L542.5 261.2ZM539.6 271.0 L539.3 271.5 L538.5 271.9 L537.5 271.9 L536.7 271.5 L536.4 271.0 L536.7 270.5 L537.5 270.1 L538.5 270.1 L539.3 270.5ZM274.9 233.7 L273.6 234.1 L270.6 233.9 L267.0 233.1 L264.1 232.1 L263.1 231.3 L264.4 230.9 L267.4 231.1 L271.0 231.9 L273.9 232.9ZM282.0 236.8 L281.4 237.4 L279.8 237.7 L278.0 237.6 L276.5 237.0 L276.0 236.2 L276.6 235.6 L278.2 235.3 L280.0 235.4 L281.5 236.0ZM226.0 389.0 L229.5 378.0 L236.0 376.5 L243.9 375.4 L258.0 373.5 L272.5 372.2 L283.0 372.5 L291.6 373.6 L296.0 369.0 L300.0 364.0 L304.5 359.8 L307.0 360.5 L306.0 365.0 L309.0 369.0 L310.7 373.0 L304.0 374.5 L299.6 377.7 L308.0 380.0 L318.7 381.7 L350.0 381.2 L400.0 380.5 L440.0 379.8 L468.0 377.0 L482.0 370.0 L490.0 365.5 L503.0 364.3 L517.0 365.0 L526.0 368.5 L531.5 372.5 L525.0 378.0 L512.0 384.0 L503.0 389.0Z" fill="#f0f0f0"/>
<path d="M361.8 189.5 L364.1 189.0 L369.7 187.9 L370.1 185.7 L368.5 185.2 L368.0 183.1 L366.4 181.6 L366.0 178.5 L364.6 177.2 L362.8 177.2 L361.6 179.0 L362.6 180.9 L362.6 182.6 L364.8 183.8 L364.7 184.8 L363.1 184.8 L363.3 186.4 L362.2 187.0 L364.7 187.6 L363.2 188.0ZM356.7 187.0 L361.0 186.4 L361.4 184.5 L361.7 182.9 L360.0 181.9 L356.9 183.5 L357.4 184.9ZM499.5 246.1 L501.7 244.6 L503.4 245.5 L502.4 248.8 L503.2 252.6 L504.3 255.1 L506.4 256.6 L507.7 259.2 L507.9 261.8 L508.9 263.8 L507.4 264.1 L504.3 261.6 L502.6 257.2 L499.7 253.1 L499.9 249.6ZM422.6 284.7 L422.6 287.7 L420.3 291.8 L416.8 294.6 L414.5 296.4 L415.1 301.4 L411.3 305.4 L410.2 306.5 L409.3 302.2 L410.8 297.6 L411.9 294.6 L413.8 291.5 L415.1 290.0 L414.6 287.4 L414.8 283.9 L417.7 283.4 L420.4 283.1Z" fill="#cbcbcb"/>
<path d="M249.5 240.7 L257.2 236.5 L262.0 243.6 L260.8 249.6 L255.4 250.8 L256.3 244.2Z" fill="#7dd3e8" stroke="#7dd3e8" stroke-width="1" stroke-linejoin="round"/>
<path d="M254.0 263.3 L260.0 263.3 L260.0 270.8 L254.6 270.8Z" fill="#7dd3e8"/>
<path d="M160 190.3L172 186.6L184 183.8L194 181.2" fill="none" stroke="#f0f0f0" stroke-width="0.9" stroke-dasharray="2.2 1.6"/>
<path d="M163 290l1.5 0.5M170 294l1.2 0.8M176 297l1.5 0.3M181 301l1 1M168 300l1.2 0M560 252l1 0M570 254l1.2 0M580 256l1 0.4M590 246l1 1M594 250l0.8 1M597 246l0.8 0.6M548 254l1 0" fill="none" stroke="#f0f0f0" stroke-width="0.8" opacity="0.85"/>
<path d="M341.6 242.0 L343.6 247.8" fill="none" stroke="#12205f" stroke-width="5.5" stroke-linejoin="round" stroke-linecap="butt"/>
<path d="M343.6 247.8 L344.8 251.0" fill="none" stroke="#24509c" stroke-width="5.5" stroke-linejoin="round" stroke-linecap="butt"/>
<path d="M344.8 251.0 L347.0 254.0 L350.0 257.0" fill="none" stroke="#12205f" stroke-width="5.5" stroke-linejoin="round" stroke-linecap="butt"/>
<path d="M357.8 261.8 L364.0 260.8 L369.5 258.6" fill="none" stroke="#12205f" stroke-width="5.2" stroke-linejoin="round" stroke-linecap="butt"/>
<path d="M421.3 145.3 L467.0 147.0 L480.0 151.5 L472.0 155.5 L466.0 153.5 L459.0 152.5 L453.0 156.5 L449.0 159.5 L445.0 158.5 L442.0 162.5 L439.0 160.0 L433.0 160.5 L428.0 162.0 L424.0 160.5 L420.5 163.0Z" fill="#3e7cd2"/>
<path d="M400.0 148.0 L421.0 148.0 L421.0 166.0 L412.0 168.0 L400.0 166.0Z" fill="#c8c8c8"/>
</g>
<path d="M497.2 142.6 L501.7 143.8 L506.9 145.5 L512.6 147.6 L518.8 150.1 L525.2 152.8 L531.4 155.7 L537.1 158.7 L542.4 161.8 L547.5 165.1 L552.4 168.4 L557.1 171.8 L561.8 175.2 L566.3 178.8 L570.6 182.3 L574.7 186.0 L578.6 189.6 L582.1 193.3 L585.4 197.1 L588.6 200.8 L591.6 204.6 L594.3 208.4 L596.7 212.2 L598.9 216.0 L600.9 219.8 L602.6 223.7 L604.1 227.5 L605.2 231.3 L606.3 235.1 L607.3 238.9 L608.2 242.7 L608.9 246.5 L609.5 250.3 L609.9 254.2 L610.3 258.0 L610.5 261.8 L610.6 265.6 L610.5 269.4 L610.3 273.2 L609.9 277.0 L609.5 280.9 L608.9 284.7 L608.2 288.5 L607.3 292.3 L606.3 296.1 L605.2 299.9 L604.1 303.7 L602.6 307.5 L600.9 311.4 L598.9 315.2 L596.7 319.0 L594.3 322.8 L591.6 326.6 L588.6 330.4 L585.4 334.1 L582.1 337.9 L578.6 341.6 L574.7 345.2 L570.6 348.9 L566.3 352.4 L561.8 356.0 L557.1 359.4 L552.4 362.8 L547.5 366.1 L542.4 369.4 L537.1 372.5 L531.4 375.5 L525.2 378.4 L518.8 381.1 L512.6 383.6 L506.9 385.7 L501.3 387.5 L235.1 387.5 L229.5 385.7 L223.8 383.6 L217.6 381.1 L211.2 378.4 L205.0 375.5 L199.3 372.5 L194.0 369.4 L188.9 366.1 L184.0 362.8 L179.3 359.4 L174.6 356.0 L170.1 352.4 L165.8 348.9 L161.7 345.2 L157.8 341.6 L154.3 337.9 L151.0 334.1 L147.8 330.4 L144.8 326.6 L142.1 322.8 L139.7 319.0 L137.5 315.2 L135.5 311.4 L133.8 307.5 L132.3 303.7 L131.2 299.9 L130.1 296.1 L129.1 292.3 L128.2 288.5 L127.5 284.7 L126.9 280.9 L126.5 277.0 L126.1 273.2 L125.9 269.4 L125.8 265.6 L125.9 261.8 L126.1 258.0 L126.5 254.2 L126.9 250.3 L127.5 246.5 L128.2 242.7 L129.1 238.9 L130.1 235.1 L131.2 231.3 L132.3 227.5 L133.8 223.7 L135.5 219.8 L137.5 216.0 L139.7 212.2 L142.1 208.4 L144.8 204.6 L147.8 200.8 L151.0 197.1 L154.3 193.3 L157.8 189.6 L161.7 186.0 L165.8 182.3 L170.1 178.8 L174.6 175.2 L179.3 171.8 L184.0 168.4 L188.9 165.1 L194.0 161.8 L199.3 158.7 L205.0 155.7 L211.2 152.8 L217.6 150.1 L223.8 147.6 L229.5 145.5 L234.7 143.8 L239.2 142.6Z" fill="none" stroke="#111" stroke-width="1.1"/>
<path d="M465 206.2L523.7 229.3M373.6 271.5L357 330.4M407.4 318.5L445.4 349.5" stroke="#111" stroke-width="0.9" fill="none"/>
<rect x="430.6" y="169.4" width="68.7" height="36.8" rx="4.5" fill="#e9e9e9" stroke="#2f86c8" stroke-width="1.3"/>
<text x="435.5" y="185.3" font-size="16.2" font-weight="bold" fill="#111" text-anchor="start" textLength="59.5" lengthAdjust="spacingAndGlyphs">Eastern Asia</text>
<text x="445.7" y="201.6" font-size="13.4" font-weight="bold" fill="#111" text-anchor="start" textLength="40.2" lengthAdjust="spacingAndGlyphs">144 kg</text>
<rect x="316" y="330.3" width="81.8" height="39.1" rx="4.5" fill="#e9e9e9" stroke="#2f86c8" stroke-width="1.3"/>
<text x="323.3" y="348.6" font-size="16.2" font-weight="bold" fill="#111" text-anchor="start" textLength="68.9" lengthAdjust="spacingAndGlyphs">Middle Africa</text>
<text x="339.4" y="364.1" font-size="13.4" font-weight="bold" fill="#111" text-anchor="start" textLength="38.9" lengthAdjust="spacingAndGlyphs">164 kg</text>
<rect x="407.4" y="349.5" width="81.5" height="37.1" rx="4.5" fill="#e9e9e9" stroke="#2f86c8" stroke-width="1.3"/>
<text x="410.9" y="365.4" font-size="16.2" font-weight="bold" fill="#111" text-anchor="start" textLength="75.6" lengthAdjust="spacingAndGlyphs">Southern Africa</text>
<text x="430.0" y="380.0" font-size="13.4" font-weight="bold" fill="#111" text-anchor="start" textLength="39.0" lengthAdjust="spacingAndGlyphs">145 kg</text>
<rect x="607.6" y="194.7" width="120.6" height="31.5" rx="3" fill="#e3f5f7"/>
<text x="613.0" y="209.3" font-size="11.2" font-weight="bold" fill="#111" text-anchor="start" textLength="109.4" lengthAdjust="spacingAndGlyphs">Fish consumption in kg</text>
<text x="613.0" y="223.3" font-size="11.2" font-weight="bold" fill="#111" text-anchor="start" textLength="99.6" lengthAdjust="spacingAndGlyphs">per person per year:</text>
<rect x="621.5" y="238.3" width="40.5" height="23.3" fill="#12205f"/>
<rect x="621.5" y="261.3" width="40.5" height="23.3" fill="#302eaa"/>
<rect x="621.5" y="284.3" width="40.5" height="23.3" fill="#24509c"/>
<rect x="621.5" y="307.3" width="40.5" height="23.3" fill="#3e7cd2"/>
<rect x="621.5" y="330.3" width="40.5" height="23.3" fill="#7dd3e8"/>
<rect x="621.5" y="238.3" width="40.5" height="115.0" fill="none" stroke="#111" stroke-width="0.9"/>
<rect x="662" y="237.8" width="3.6" height="1" fill="#111"/>
<text x="667.6" y="241.6" font-size="9.2" font-weight="bold" fill="#111" text-anchor="start" textLength="10.4" lengthAdjust="spacingAndGlyphs">170</text>
<rect x="662" y="260.8" width="3.6" height="1" fill="#111"/>
<text x="667.6" y="264.6" font-size="9.2" font-weight="bold" fill="#111" text-anchor="start" textLength="10.4" lengthAdjust="spacingAndGlyphs">120</text>
<rect x="662" y="283.8" width="3.6" height="1" fill="#111"/>
<text x="667.6" y="287.6" font-size="9.2" font-weight="bold" fill="#111" text-anchor="start" textLength="7.6" lengthAdjust="spacingAndGlyphs">70</text>
<rect x="662" y="306.8" width="3.6" height="1" fill="#111"/>
<text x="667.6" y="310.6" font-size="9.2" font-weight="bold" fill="#111" text-anchor="start" textLength="7.6" lengthAdjust="spacingAndGlyphs">50</text>
<rect x="662" y="329.8" width="3.6" height="1" fill="#111"/>
<text x="667.6" y="333.6" font-size="9.2" font-weight="bold" fill="#111" text-anchor="start" textLength="7.6" lengthAdjust="spacingAndGlyphs">30</text>
<rect x="662" y="352.8" width="3.6" height="1" fill="#111"/>
<text x="667.6" y="356.6" font-size="9.2" font-weight="bold" fill="#111" text-anchor="start" textLength="3.6" lengthAdjust="spacingAndGlyphs">0</text>
<circle cx="77.4" cy="373.1" r="35" fill="#f0f0f0" stroke="#1c2a78" stroke-width="1.4"/>
<text x="57.2" y="370.4" font-size="29" font-weight="normal" fill="#111" text-anchor="start" textLength="34.6" lengthAdjust="spacingAndGlyphs" stroke="#111" stroke-width="0.6">2.1</text>
<text x="49.0" y="387.4" font-size="8.8" font-weight="bold" fill="#222" text-anchor="start" textLength="56.0" lengthAdjust="spacingAndGlyphs">million metric</text>
<text x="63.9" y="398.4" font-size="8.8" font-weight="bold" fill="#222" text-anchor="start" textLength="27.0" lengthAdjust="spacingAndGlyphs">tonnes</text>
<path d="M80.3 410.8V416M80.4 418.2C81.3 420 81.6 422 81.2 424C80.6 427 78 428.4 76 427.4C74.6 426.6 74 425.2 74.3 423.6" fill="none" stroke="#555" stroke-width="0.75"/><circle cx="80.3" cy="417.1" r="1" fill="none" stroke="#555" stroke-width="0.6"/>
<path d="M7.7 475.5C25 468 55 465 80 465C105 465 135 468 152 476.5C130 486 105 489.5 80 489.5C55 489.5 30 485 7.7 475.5Z" fill="#828282"/>
<path d="M26.6 450.6C33 448.5 43 449.5 51 454C59 459 65 466 68 473L56 482C47 479 39 472 34 465C30.5 460 28 455 26.6 450.6Z" fill="#a9cfdb"/>
<path d="M31 453C38 455 46 461 54 470L50 476C42 470 36 462 31 453Z" fill="#c4dfe6"/>
<circle cx="35" cy="454" r="1.2" fill="#2a5fa8"/>
<path d="M47 449.6C52 447.5 59 449 65 453.5C70 457.5 74 462 76 466L68 470C61 466 54 461 50 457C48.5 455 47.5 452.5 47 449.6Z" fill="#8db2d2"/>
<path d="M50 455C56 457 63 461 70 466L66 468C60 465 54 460 50 455Z" fill="#e3ecf2"/>
<circle cx="51" cy="452" r="1.6" fill="#f0c93a"/><circle cx="51" cy="452" r="0.7" fill="#333"/>
<path d="M10.3 462.5C14 458.5 21 458 28 461C36 465 44 471 52 480L36 487C27 484 19 478 14.5 471.5C12.3 468 11 465 10.3 462.5Z" fill="#8fb9d3"/>
<path d="M22 468C30 470 38 475 46 482L38 484C32 480 26 475 22 468Z" fill="#6f9fc8"/>
<circle cx="16.6" cy="463.7" r="2" fill="#f0c93a"/><circle cx="16.6" cy="463.7" r="0.9" fill="#2b4a78"/>
<path d="M168.5 463.2C163 459.5 155 458 147 459C139 460 131 465 124 472L121 477C128 479 138 478 147 475C156 472 163 468 168.5 463.2Z" fill="#2f8fa9"/>
<path d="M127 463C130 458 134 455.5 138 456C141 457.5 144 460 146 461C140 461 133 464 127 468Z" fill="#3f5f7f"/>
<path d="M168.5 463.5C163 468 155 472 146 475C140 477 135 478 131 478C136 474 143 471 150 469C157 467 163 465 168.5 463.5Z" fill="#d3ebeb"/>
<path d="M152 459.5C156 459 162 460.5 168 463.3C163 466.5 158 468.5 153 469.5C150.5 466 150.5 462.5 152 459.5Z" fill="#2a7f9a"/>
<circle cx="159.4" cy="464.2" r="1.9" fill="#e8c83a"/><circle cx="159.4" cy="464.2" r="0.8" fill="#b0303a"/>
<path d="M86.6 446.9C89.89999999999999 451.9 88.3 464 85.5 472L82.5 472C79.7 464 83.3 451.9 86.6 446.9Z" fill="#efc35a"/>
<path d="M86.6 448.9C87.91999999999999 454.9 85.65 464 84.5 472L82.5 472C79.7 464 83.3 451.9 86.6 448.9Z" fill="#dcaa45"/>
<circle cx="86.19999999999999" cy="451.4" r="0.6" fill="#5a4a2a"/>
<path d="M95.7 447C99.0 452 97.3 466 94.5 474L91.5 474C88.7 466 92.4 452 95.7 447Z" fill="#efc35a"/>
<path d="M95.7 449C97.02 455 94.65 466 93.5 474L91.5 474C88.7 466 92.4 452 95.7 449Z" fill="#dcaa45"/>
<circle cx="95.3" cy="451.5" r="0.6" fill="#5a4a2a"/>
<path d="M102.6 452C105.19999999999999 457 104.6 466 102.5 474L99.5 474C97.4 466 100.0 457 102.6 452Z" fill="#efc35a"/>
<path d="M102.6 454C103.64 460 102.3 466 101.5 474L99.5 474C97.4 466 100.0 457 102.6 454Z" fill="#dcaa45"/>
<circle cx="102.19999999999999" cy="456.5" r="0.6" fill="#5a4a2a"/>
<path d="M109.8 452C113.2 457 110.9 467 108.0 475L105.0 475C102.1 467 106.39999999999999 457 109.8 452Z" fill="#efc35a"/>
<path d="M109.8 454C111.16 460 108.2 467 107.0 475L105.0 475C102.1 467 106.39999999999999 457 109.8 454Z" fill="#dcaa45"/>
<circle cx="109.39999999999999" cy="456.5" r="0.6" fill="#5a4a2a"/>
<ellipse cx="62.5" cy="470" rx="4.6" ry="7" transform="rotate(-25 62.5 470)" fill="#3a3a3a"/>
<ellipse cx="69" cy="471" rx="4.6" ry="8" transform="rotate(-8 69 471)" fill="#4a4a4a"/>
<ellipse cx="75" cy="468.5" rx="4.8" ry="8.5" transform="rotate(14 75 468.5)" fill="#333"/>
<path d="M78.5 463C80 467 79.5 472 77.5 476" fill="none" stroke="#d8492c" stroke-width="0.9"/>
<path d="M24 479C27 473 36 472 41 477C43 479 43 482 41 483C39 479 32 478 27 482Z" fill="#ef7d32"/>
<path d="M28 476C32 474 37 475 40 478" fill="none" stroke="#f9b48a" stroke-width="0.8"/>
<path d="M37 482C40 476 49 475 54 480C56 482 56 485 54 486C52 482 45 481 40 485Z" fill="#ef7d32"/>
<path d="M41 479C45 477 50 478 53 481" fill="none" stroke="#f9b48a" stroke-width="0.8"/>
<path d="M49 480.5C52 474.5 61 473.5 66 478.5C68 480.5 68 483.5 66 484.5C64 480.5 57 479.5 52 483.5Z" fill="#ef7d32"/>
<path d="M53 477.5C57 475.5 62 476.5 65 479.5" fill="none" stroke="#f9b48a" stroke-width="0.8"/>
<path d="M56 484C60 478 68 475.5 76 477C82 478 87 482 89 487L82 490L62 489Z" fill="#8da3bf"/>
<path d="M62 484C67 480 74 479.5 80 482L78 488L66 488Z" fill="#a9bbd0"/>
<path d="M120 487C126 485 132 481 136 477.5L137.5 479.5C133 484 127 488 121 489.5Z" fill="#d81e24"/>
<path d="M118 489C124 489 131 486 135.5 483L136.5 485C131 489 124 491.5 118.5 491.5Z" fill="#c81a20"/>
<path d="M86 479C83 472 84 463 89 457.5C92 454 96 453 98 455.5C95 456 92 459 91 463C90 468 91.5 473 94 477Z" fill="#e31e24"/>
<path d="M89 457.5C92 452.5 98 452 100.5 456C98 455 95 456 93.5 458.5C96 457.5 98.5 458.5 99 461C96 459.5 92 460 89 463Z" fill="#e31e24"/>
<path d="M124 479C128 474 130 468 128 462C126.5 457 122.5 453 118 452.5C120 455 122 458 122 462C122 467 120 472 117 476Z" fill="#e31e24"/>
<path d="M118 452.5C114.5 451 111.5 452 111 455C113.5 454 116 454.5 117.5 456.5C115 456.5 113.5 458 114 460.5C116.5 458.5 120 458.5 122.5 460.5C122.5 457 121 454 118 452.5Z" fill="#e31e24"/>
<ellipse cx="105" cy="481" rx="19" ry="9.5" fill="#e31e24"/>
<path d="M88 484C96 488 112 489 122 484L121 489C112 492 96 491.5 89 488Z" fill="#c4161c"/>
<path d="M7.7 475.5C30 484.5 55 489.5 80 489.5C105 489.5 130 485 152 476.5C151 500 116 520 80 520C44 520 9 500 7.7 475.5Z" fill="#999"/>
<path d="M74.5 426.5L13.5 476.5M81 427.3L150 480.5" fill="none" stroke="#9a9a9a" stroke-width="0.8"/><path d="M80.7 427V489" fill="none" stroke="#c4c4c4" stroke-width="1.1"/>
<path d="M80.8 489V493.5" stroke="#cfcfcf" stroke-width="1"/>
<rect x="114.3" y="398.4" width="115.7" height="46.4" rx="3" fill="#e3f5f7"/>
<text x="118.0" y="410.4" font-size="11.2" font-weight="normal" fill="#111" text-anchor="start" textLength="93.4" lengthAdjust="spacingAndGlyphs" stroke="#111" stroke-width="0.31">Coastal Indigenous</text>
<text x="118.0" y="423.4" font-size="11.2" font-weight="normal" fill="#111" text-anchor="start" textLength="105.5" lengthAdjust="spacingAndGlyphs" stroke="#111" stroke-width="0.31">people’s consumption</text>
<text x="118.0" y="436.0" font-size="11.2" font-weight="normal" fill="#111" text-anchor="start" textLength="98.0" lengthAdjust="spacingAndGlyphs" stroke="#111" stroke-width="0.31">of seafood per year</text>
<rect x="381.7" y="403.1" width="142.1" height="27.9" rx="3" fill="#e3f5f7"/>
<text x="388.0" y="413.2" font-size="11.2" font-weight="normal" fill="#111" text-anchor="start" textLength="123.6" lengthAdjust="spacingAndGlyphs" stroke="#111" stroke-width="0.31">Importance of seafood to</text>
<text x="388.0" y="426.1" font-size="11.2" font-weight="normal" fill="#111" text-anchor="start" textLength="127.4" lengthAdjust="spacingAndGlyphs" stroke="#111" stroke-width="0.31">coastal Indigenous people</text>
<defs><linearGradient id="fb" x1="0" y1="0" x2="0.25" y2="1"><stop offset="0" stop-color="#a9b0dc"/><stop offset="0.45" stop-color="#c6cbe9"/><stop offset="1" stop-color="#e6e9f6"/></linearGradient><linearGradient id="ft" x1="0" y1="0" x2="1" y2="0"><stop offset="0" stop-color="#b2b2b2"/><stop offset="0.6" stop-color="#cdcdcd"/><stop offset="1" stop-color="#d6d6de"/></linearGradient><linearGradient id="fc" x1="0" y1="0" x2="0" y2="1"><stop offset="0" stop-color="#a9dde0"/><stop offset="0.5" stop-color="#c6e8ea"/><stop offset="1" stop-color="#e2f3f4"/></linearGradient><clipPath id="fbc"><path d="M453 469.5C462 466 471 462.5 480 459C488 455.8 497 452.2 505 449C514 445.4 522 441.5 530 437.5C535 435 540 432 545 428.5C556 424 570 420.5 586 418.4C594 416.6 601 415.6 608.8 414.8C618 413.8 628 413.3 637.4 413.2C646 413.1 655 413.4 663.7 414.1C672 414.8 680 415.8 687.6 417.2C693 418.3 698 420.3 701.9 423.2C704 424.7 705.5 426.3 705.5 428C704.5 430 702.5 432 700.7 433.9C698 437 695 439.8 692.3 442.3C688 446.5 683 450.5 678 454.2C673.5 458 668.5 461.6 663.7 465C652 472.5 639 478 625.7 482.4C615 486.5 605 490 595 493C588 494.5 580 495 572.6 494.6C564 495.2 555 495.6 546 495.7C537 496.4 528 496.9 519.6 497C515 497.2 510 497.2 506.3 497C492 495.5 476 492.5 457 489C454 483 452.5 476 453 469.5Z"/></clipPath><pattern id="sc" width="4" height="4" patternUnits="userSpaceOnUse" patternTransform="rotate(-20)"><circle cx="1.2" cy="1.2" r="0.9" fill="#fff" opacity="0.35"/><circle cx="3.2" cy="3.2" r="0.9" fill="#fff" opacity="0.35"/></pattern></defs>
<path d="M397.3 456.6C410 458 425 462 440 466.5C446 468 451 469 456 469.5L458 489C452 490.5 446 493 440 497C430 503.5 421 510.5 413.3 516.2C414 509 417.5 500.5 422 493.5C424 489.5 426.5 486 428.5 482.8C420 474.5 408 465 397.3 456.6Z" fill="url(#ft)"/>
<path d="M400 458.5L452 473M404 462L450 476.5M410 467.5L448 479.5M416 510L452 484M419 503L450 482M423 495L448 481" stroke="#8a8a8a" stroke-width="0.7" opacity="0.6" fill="none"/>
<path d="M463.9 489.5C478 494.5 492 500.5 506.3 506.3C511 503.5 515.5 500.5 519.6 496.5Z" fill="#b5bde3"/>
<path d="M544.8 429C545.5 426 545 424 546.5 421C551 413 556 404.5 560.6 396.9C563.5 399 566.5 401.5 569.5 404C575 408.5 581 413.5 586.5 418.6C572 421 558 425 544.8 429Z" fill="#bfe5e8"/>
<path d="M560 399L549 426M563 401L556 425M567 404L563 423M571 407L570 421.5M576 411L577 420" stroke="#9fd3d8" stroke-width="0.6" fill="none" opacity="0.8"/>
<path d="M575.3 494.5C576 501 577 508 578 514.3C584 508 590 501 595.2 493Z" fill="#c3e7ea"/>
<path d="M453 469.5C462 466 471 462.5 480 459C488 455.8 497 452.2 505 449C514 445.4 522 441.5 530 437.5C535 435 540 432 545 428.5C556 424 570 420.5 586 418.4C594 416.6 601 415.6 608.8 414.8C618 413.8 628 413.3 637.4 413.2C646 413.1 655 413.4 663.7 414.1C672 414.8 680 415.8 687.6 417.2C693 418.3 698 420.3 701.9 423.2C704 424.7 705.5 426.3 705.5 428C704.5 430 702.5 432 700.7 433.9C698 437 695 439.8 692.3 442.3C688 446.5 683 450.5 678 454.2C673.5 458 668.5 461.6 663.7 465C652 472.5 639 478 625.7 482.4C615 486.5 605 490 595 493C588 494.5 580 495 572.6 494.6C564 495.2 555 495.6 546 495.7C537 496.4 528 496.9 519.6 497C515 497.2 510 497.2 506.3 497C492 495.5 476 492.5 457 489C454 483 452.5 476 453 469.5Z" fill="url(#fb)"/>
<g clip-path="url(#fbc)">
<path d="M545 420L598 410L604 500L560 502Z" fill="url(#fc)"/>
<rect x="455" y="410" width="200" height="95" fill="url(#sc)"/>
<path d="M651 412C645 420 644.5 431 648 440C650.5 447 654 453 658 460L668 470L712 430L700 412Z" fill="#dcdde9"/>
<path d="M660 418C654 426 655 438 661 447C665 452 670 454 676 452" fill="none" stroke="#c4c5d8" stroke-width="1.2"/>
<path d="M688 419C694 424 697 430 693 437" fill="none" stroke="#c8c9d8" stroke-width="1"/>
</g>
<circle cx="682" cy="423.2" r="4.6" fill="#c3c4d2"/><circle cx="682" cy="423.2" r="3" fill="#eeeef4"/><circle cx="682.3" cy="423.2" r="1.5" fill="#d5d6e2"/>
<path d="M617 462.5C622 459 630 457.5 638 458C640.5 458.3 641 459.5 639.5 461C634 465.5 625 467.5 619 466C616.5 465.2 616 463.6 617 462.5Z" fill="#a9aade"/>
<circle cx="641.3" cy="427.5" r="1.3" fill="#a9aade"/>
<text x="429.2" y="485.0" font-size="14.6" font-weight="bold" fill="#111" text-anchor="start" textLength="17.1" lengthAdjust="spacingAndGlyphs">Jobs</text>
<text x="468.9" y="477.0" font-size="14.6" font-weight="bold" fill="#111" text-anchor="start" textLength="30.1" lengthAdjust="spacingAndGlyphs">Cultural</text>
<text x="470.0" y="490.4" font-size="14.6" font-weight="bold" fill="#111" text-anchor="start" textLength="28.3" lengthAdjust="spacingAndGlyphs">identity</text>
<text x="522.3" y="468.4" font-size="14.6" font-weight="bold" fill="#111" text-anchor="start" textLength="17.7" lengthAdjust="spacingAndGlyphs">Food</text>
<text x="516.7" y="481.9" font-size="14.6" font-weight="bold" fill="#111" text-anchor="start" textLength="29.1" lengthAdjust="spacingAndGlyphs">security</text>
<text x="557.4" y="454.9" font-size="14.6" font-weight="bold" fill="#111" text-anchor="start" textLength="42.4" lengthAdjust="spacingAndGlyphs">Connection</text>
<text x="565.0" y="469.6" font-size="14.6" font-weight="bold" fill="#111" text-anchor="start" textLength="27.0" lengthAdjust="spacingAndGlyphs">to land</text>
<text x="608.4" y="453.0" font-size="14.6" font-weight="bold" fill="#111" text-anchor="start" textLength="38.0" lengthAdjust="spacingAndGlyphs">Traditions</text>
<text x="655.4" y="437.0" font-size="14.6" font-weight="bold" fill="#111" text-anchor="start" textLength="31.4" lengthAdjust="spacingAndGlyphs">Memory</text>
<text x="646.8" y="490.0" font-size="13.1" font-weight="normal" fill="#2e8fc9" text-anchor="start" textLength="52.6" lengthAdjust="spacingAndGlyphs">NEREUS</text>
<text x="646.8" y="502.0" font-size="12" font-weight="normal" fill="#3d74b8" text-anchor="start" textLength="55.9" lengthAdjust="spacingAndGlyphs">PROGRAM</text>
<text x="646.8" y="507.8" font-size="4.6" font-weight="normal" fill="#777" text-anchor="start" textLength="55.5" lengthAdjust="spacingAndGlyphs">Predicting Future Oceans</text>
<path d="M710.7 481.6C709.9 486.5 710.3 490.8 712.4 493.2C714.6 495.6 718.8 495.6 721 493.2C723.1 490.8 723.5 486.5 722.7 481.6" fill="none" stroke="#2db34a" stroke-width="2.7" stroke-linecap="round"/>
<path d="M714 485.9L715.4 485.5M717.6 485.5L719 485.9M716.7 486.5L716.2 488.6L717 488.7M715.3 490.6Q716.7 491.5 718.2 490.5" stroke="#6ccb80" stroke-width="0.6" fill="none"/>
<text class="cjk" x="724.9" y="486.4" font-size="7.4" font-weight="bold" fill="#2db34a" textLength="16.6" lengthAdjust="spacingAndGlyphs">日本</text>
<text class="cjk" x="724.9" y="495.2" font-size="7.4" font-weight="bold" fill="#2db34a" textLength="16.6" lengthAdjust="spacingAndGlyphs">財団</text>
<text x="709.3" y="502.0" font-size="5.2" font-weight="bold" fill="#2db34a" text-anchor="start" textLength="32.2" lengthAdjust="spacingAndGlyphs">THE NIPPON</text>
<text x="709.3" y="507.6" font-size="5.2" font-weight="bold" fill="#2db34a" text-anchor="start" textLength="32.2" lengthAdjust="spacingAndGlyphs">FOUNDATION</text>
<text x="637.5" y="524.3" font-size="8.6" font-weight="bold" fill="#111" text-anchor="start" textLength="107.5" lengthAdjust="spacingAndGlyphs">Design by Lindsay Lafreniere</text>
</svg>
</body></html>
